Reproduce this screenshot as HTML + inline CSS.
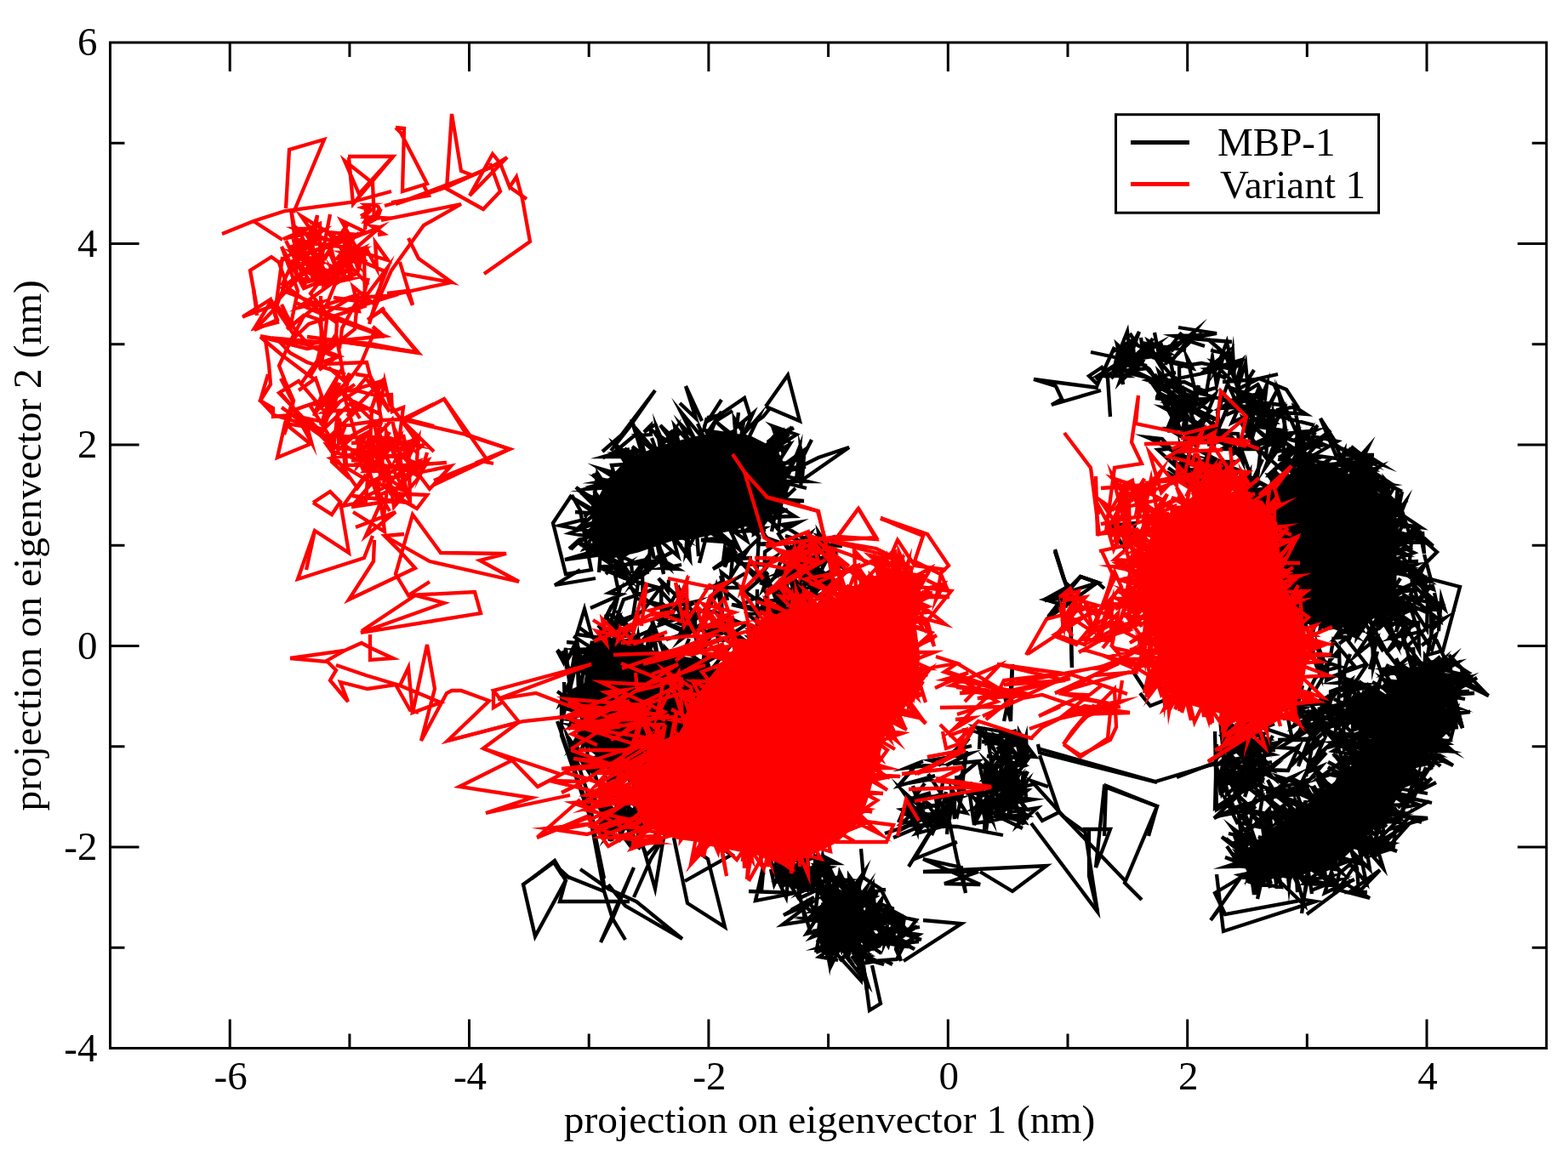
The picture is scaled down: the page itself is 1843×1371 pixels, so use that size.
<!DOCTYPE html>
<html lang="en"><head><meta charset="utf-8"><title>projection on eigenvectors</title>
<style>
html,body{margin:0;padding:0;background:#fff;}
body{width:1843px;height:1371px;overflow:hidden;}
svg{display:block;}
text{font-family:"Liberation Serif",serif;fill:#000;}
</style></head><body>
<svg width="1843" height="1371" viewBox="0 0 1843 1371">
<rect width="1843" height="1371" fill="#fff"/>
<g id="data" fill="none" stroke-linejoin="miter" stroke-miterlimit="4" stroke-linecap="butt">
<path d="M695 625L700 595L715 565L740 540L775 526L815 515L850 509L882 514L912 529L925 555L918 585L900 610L862 622L825 630L788 635L750 648L720 655L700 648Z" fill="#000" stroke="#000" stroke-width="3"/>
<path d="M695 755L745 752L770 768L832 778L845 815L820 845L802 880L770 898L720 902L695 882L682 840L690 790Z" fill="#000" stroke="#000" stroke-width="3"/>
<path d="M1502 575L1530 545L1570 550L1605 570L1640 595L1640 713L1518 713L1505 645Z" fill="#000" stroke="#000" stroke-width="3"/>
<path d="M1458 578L1500 572L1523 555L1558 560L1588 585L1608 602L1628 635L1623 680L1608 715L1588 735L1558 740L1538 725L1523 710L1483 690L1458 640Z" fill="#000" stroke="#000" stroke-width="3"/>
<path d="M1633 815L1658 790L1683 778L1698 802L1688 840L1678 883L1613 883L1618 840Z" fill="#000" stroke="#000" stroke-width="3"/>
<path d="M1466 1000L1496 975L1533 950L1570 920L1596 895L1620 862L1633 825L1658 800L1698 800L1698 838L1678 875L1658 912L1633 950L1608 980L1578 1008L1533 1025L1488 1030L1468 1020Z" fill="#000" stroke="#000" stroke-width="3"/>
<path d="M699 632L670 627L705 613L683 618L702 602L669 583L700 604L676 602M700 596L677 573L705 592L679 576L709 592L698 577L706 588L683 580M719 573L688 575L714 567L699 571L718 573L696 558L712 572L698 557M726 557L705 551L723 562L719 547L736 546L722 522L750 542L734 527M757 541L742 493L759 537L743 525L759 537L751 508L773 534L766 515M777 533L772 503L783 529L769 508L795 526L776 500L802 525L788 506M799 526L793 501L812 522L800 499L816 515L800 484L830 520L820 498M832 517L841 495L865 518L863 492L879 517L892 490L871 514L874 496M899 526L912 510L898 530L913 515L908 527L919 511L902 524L928 508M905 527L914 522L912 534L927 510L912 531L928 523L914 545L933 544M920 555L947 549L915 551L943 531L920 559L949 566L915 566L948 574M916 584L940 593L915 587L945 589L907 590L934 607L900 608L915 620M888 614L898 619L887 611L897 626L880 611L893 634L883 608L885 627M870 614L878 636L857 621L869 646L839 620L857 641L832 624L822 662M819 627L821 654L819 625L806 651L808 625L811 658L790 628L805 649M787 630L801 642L791 632L797 654L774 634L780 675L772 638L777 657M765 639L769 657L764 638L763 669L725 652L740 675L714 654L719 666M706 649L704 673L706 646L664 658L707 652L688 643L706 641L681 640M704 639L687 645L700 626L669 645L696 621L671 646" stroke="#000" stroke-width="4.3" stroke-miterlimit="10"/>
<path d="M814 597L833 620L824 615L851 637L824 635L854 632M699 644L721 658L699 652L719 640L751 635L723 646M874 600L875 613L884 594L863 608L874 588L856 601M711 577L706 562L712 571L702 558L697 597L687 608M735 613L772 615L762 630L759 613L788 613L764 621M860 517L834 521L858 538L822 528L841 559L836 534M742 528L763 550L729 537L757 530L724 533L744 539M935 574L911 597L917 586L896 618L913 595L907 625M795 535L815 559L810 547L798 577L805 557L791 576M777 519L796 512L788 519L794 504L770 533L781 523M916 521L931 502L908 529L936 511L908 501L930 522M772 567L765 587L771 574L756 584L741 574L758 561M772 498L757 508L765 500L765 511L747 512L774 535M872 554L855 540L877 564L865 563L876 559L863 560M940 563L940 547L936 564L940 525L926 560L930 550M885 628L899 611L886 622L900 623L867 625L859 615M730 576L706 563L727 568L703 567L719 564L713 584M775 597L753 594L780 606L772 595L809 609L796 591M747 511L718 535L740 528L709 537L741 537L723 559M933 503L902 520L918 508L914 519L908 501L921 534M941 573L945 536L943 562L941 527L944 537L954 517M827 579L855 558L829 559L850 562L818 550L857 558M904 613L909 588L891 563L911 568L904 556L917 562M732 628L767 623L751 621L767 629L767 597L750 604M855 541L842 542L865 543L848 523L850 560L869 567M866 606L878 617L840 609L830 588L793 603L808 569M866 564L869 580L866 568L829 565L855 581L873 555M871 584L856 587L874 572L854 582L846 564L860 585M738 653L716 623L732 648L726 634L726 649L716 641M875 578L889 576L904 596L888 587L923 579L910 571M926 599L912 605L926 572L899 598L903 584L916 565M831 491L827 506L860 511L872 528L872 515L886 527M865 506L832 520L869 535L898 558L894 540L876 543M791 604L781 576L788 587L784 564L801 594L805 562M770 548L766 529L778 537L776 524L780 533L763 523M800 524L808 533L846 529L851 563L845 551L843 583M831 491L847 488L830 511L848 484L840 496L861 483M896 605L876 617L888 620L869 585L881 583L847 582M816 633L790 625L810 634L781 622L804 633L793 624M730 579L697 595L711 585L741 582L750 588L748 627M881 579L865 562L875 584L874 574L875 610L883 598M700 642L690 651L709 630L718 637L690 629L716 623M750 646L734 647L749 629L727 653L734 643L713 643M868 485L866 502L885 486L877 504L897 490L905 480M825 595L837 610L845 604L827 619L857 610L841 612M918 589L924 575L907 587L936 561L921 573L888 591M894 601L890 614L879 622L898 621L886 628L890 594M844 498L872 520L868 548L877 525L860 535L891 528M919 586L915 623L905 611L877 610L906 609L875 597M849 624L863 593L843 605L866 589L851 577L874 594M731 595L718 614L737 597L728 629L726 590L733 602M759 550L761 563L737 575L754 539L752 575L742 553" stroke="#000" stroke-width="4.3" stroke-miterlimit="10"/>
<path d="M755 719L778 689L777 708L791 723L763 708L740 690M718 745L733 705L774 691L734 680L706 668L733 676M774 641L786 667L771 654L797 669L780 668L801 664M694 715L730 699L716 697L755 677L776 659L734 664M794 724L811 721L819 755L816 719L802 741L820 726M707 656L728 670L737 678L723 659L734 669L703 666M826 717L849 722L847 691L836 710L842 689L847 710M920 708L922 696L917 714L921 690L934 701L893 685M712 675L733 655L725 670L736 664L723 676L728 700M907 717L860 711L905 722L934 701L920 710L946 676M987 666L949 686L942 651L960 665L936 670L915 676M755 671L756 718L718 741L740 744L707 746L737 748M681 738L696 749L687 716L678 746L706 750L688 747M976 660L955 656L965 664L940 667L972 688L954 655M865 660L862 644L859 678L878 648L838 669L863 651M978 686L953 727L937 693L949 716L955 689L952 739M856 728L859 743L850 728L844 751L839 736L850 746M900 632L917 638L889 640L912 640L899 649L898 694M937 655L956 670L940 645L947 678L938 660L948 666M703 735L721 756L710 751L728 753L728 728L713 721M878 755L844 730L875 757L837 736L830 747L848 725M802 740L770 727L808 745L806 704L804 750L803 731M835 749L827 760L864 746L848 754L876 735L837 718M901 686L871 661L889 681L892 633L867 657L884 656M957 689L964 677L944 677L987 701L954 678L959 701M890 693L890 728L901 700L903 714L876 696L903 673M894 762L881 750L917 757L901 743L940 742L906 754M819 728L804 734L825 738L803 743L823 739L783 752M750 686L744 724L728 730L740 739L725 718L747 759M960 689L922 698L901 731L939 717L967 688L987 717M859 635L868 662L859 645L855 658L852 644L850 660M778 735L777 695L796 716L749 704L730 668L709 666M743 674L742 662L760 658L761 673L746 678L757 658M810 714L842 746L798 733L820 723L799 753L824 734M988 689L966 706L975 682L967 704L979 695L960 678M876 674L847 691L872 711L890 702L924 728L911 691M801 692L809 723L778 734L797 712L819 707L796 720M955 661L947 679L947 663L945 700L929 683L940 694M786 682L785 695L774 680L805 710L798 692L774 735M849 684L835 691L871 691L848 673L855 706L847 677M953 726L934 747L901 723L941 744L917 746L950 713M739 683L765 650L744 685L778 651L768 661L790 649M852 667L856 646L868 663L897 664L911 655L891 679M912 705L902 678L897 693L929 659L923 704L921 688M983 663L989 688L962 669L967 687L953 674L960 687M894 750L885 738L907 746L882 739L908 731L926 707M719 712L711 728L727 699L715 745L727 729L719 760M949 762L941 728L961 742L948 709L916 728L944 729M898 697L933 675L922 683L952 658L918 673L932 670M955 695L936 663L963 688L966 671L952 705L958 687M884 745L913 719L879 722L914 753L903 743L952 741M986 688L960 701L981 693L963 684L980 683L964 677" stroke="#000" stroke-width="4.3" stroke-miterlimit="10"/>
<path d="M963 670L927 703L944 680L936 634L923 630L956 641M929 645L952 628L939 650L958 643L931 672L933 706M955 639L935 655L916 676L928 670L914 709L923 679M956 653L952 677L963 636L960 684L955 656L928 642M911 677L920 654L933 695L933 678L949 707L916 685M990 642L975 641L957 644L970 642L952 647L937 654M985 638L963 631L981 648L943 651L958 635L928 644M942 715L909 706L937 702L913 715L937 716L911 721M936 647L976 633L956 659L980 651L965 645L995 671M962 630L967 643L950 636L919 617L939 614L915 627M965 646L962 626L986 664L951 638L957 686L972 658M918 653L926 668L940 640L937 663L914 626L930 649" stroke="#000" stroke-width="4.3" stroke-miterlimit="10"/>
<path d="M697 762L710 734L710 758L718 731L727 755L712 722L729 760L723 740M740 752L767 740L747 762L750 747L752 760L766 736L760 763L780 746M763 770L767 752L773 772L766 728L783 775L782 762L798 779L810 751M797 776L804 764L829 782L829 759L826 781L854 765L833 791L851 785M839 800L851 793L836 794L858 785L837 807L847 796L834 801L863 799M837 805L863 796L839 813L856 810L845 806L857 839L839 815L859 826M840 809L848 822L836 821L852 828L825 827L854 830L828 824L844 836M836 825L854 857L825 837L842 856L826 827L835 851L825 832L831 841M823 834L829 847L816 842L835 844L823 838L829 861L806 863L824 893M809 865L821 880L804 874L823 885L776 892L797 905L753 893L759 909M757 892L759 917L745 897L753 907L745 896L740 923L741 893L748 910M747 898L742 916L748 894L747 917L732 895L748 919L724 900L714 922M714 893L699 908L714 896L708 902L713 889L693 899L707 886L682 902M699 868L685 877L694 850L669 846L686 839L668 834L696 802L671 813M692 785L682 776L697 764L685 767L697 770L676 764L697 763L674 748" stroke="#000" stroke-width="4.3" stroke-miterlimit="10"/>
<path d="M720 976L738 972L708 965L732 957L713 962L742 977M720 989L709 963L709 985L705 964L731 926L706 933M712 915L734 914L693 890L701 916L677 876L688 894M711 947L731 970L718 968L741 964L738 951L745 986M753 998L731 984L733 946L714 982L724 971L716 989M721 925L703 937L724 924L725 955L709 942L733 942M766 988L777 972L760 944L750 980L749 946L744 965M682 854L686 873L691 831L668 831L681 823L668 858M692 772L678 792L689 767L688 788L678 756L666 755M747 967L734 939L759 955L745 974L743 957L734 969M678 905L667 866L676 882L668 867L691 904L689 889M689 765L683 808L674 761L667 776L678 757L685 779M687 820L688 805L671 828L683 825L669 817L690 809M746 932L724 940L736 942L754 947L746 930L753 976M688 850L672 878L691 860L690 875L691 906L677 885M733 944L739 931L739 968L726 922L723 972L715 955M663 802L664 834L676 786L659 827L668 819L687 836M744 999L716 961L721 973L698 938L710 959L706 942M664 784L685 790L677 775L672 801L668 822L655 813M683 808L688 846L673 851L691 855L672 853L685 858M747 932L757 946L738 941L717 932L750 959L731 942M727 990L732 977L745 952L740 974L757 949L740 965" stroke="#000" stroke-width="4.3" stroke-miterlimit="10"/>
<path d="M1027 1078L1016 1079L1020 1087L1008 1082L1021 1081L999 1076M1023 1114L1013 1117L1003 1115L1011 1122L1009 1099L1018 1097M1010 1070L988 1089L1013 1067L1004 1066L1013 1061L1003 1062M1000 1088L1021 1112L1022 1100L1024 1114L996 1094L1004 1113M982 1099L989 1117L992 1106L1024 1100L996 1104L1015 1114M1000 1107L993 1085L993 1101L999 1091L991 1086L1014 1081M976 1105L989 1103L979 1103L1011 1115L1002 1109L1004 1121M1026 1112L1015 1092L1012 1101L1020 1118L1020 1097L1028 1111M1013 1121L1003 1105L999 1118L999 1102L995 1116L1001 1086M995 1072L990 1098L988 1085L987 1105L996 1079L1012 1066M1000 1116L1000 1096L994 1102L986 1084L992 1091L1002 1108M1007 1076L1022 1085L1009 1088L1032 1080L1026 1092L1019 1074M1022 1089L1007 1085L1037 1094L1017 1078L1020 1066L1026 1088M1016 1104L995 1112L1012 1105L995 1112L1010 1107L983 1101" stroke="#000" stroke-width="4.3" stroke-miterlimit="10"/>
<path d="M983 1073L964 1054L983 1070L968 1050L976 1070L975 1055L988 1065L966 1047M999 1057L1007 1040L1011 1060L1019 1043L1003 1064L1018 1052L1012 1064L1028 1046M1011 1068L1026 1040L1028 1069L1036 1058L1031 1078L1046 1078L1033 1090L1049 1080M1032 1086L1052 1075L1034 1082L1055 1088L1033 1099L1051 1103L1011 1122L1009 1141M1008 1119L1020 1157L993 1123L1003 1135L988 1113L977 1135L978 1099L966 1120M978 1103L973 1115L976 1085L952 1081L977 1080L965 1079L981 1077L955 1067M983 1068L965 1063" stroke="#000" stroke-width="4.3" stroke-miterlimit="10"/>
<path d="M955 1095L983 1091L954 1102L973 1081L974 1093L967 1072M976 1124L1008 1102L981 1098L997 1098L1010 1115L999 1113M1038 1084L1042 1067L1064 1079L1045 1074L1072 1103L1055 1079M989 1099L989 1068L990 1082L994 1054L1005 1078L1006 1041M1080 1107L1061 1109L1075 1116L1049 1101L1060 1082L1060 1103M1024 1070L1024 1059L1045 1078L1024 1078L1033 1069L1015 1047M990 1069L993 1059L1001 1084L1002 1066L1003 1078L993 1066M1083 1105L1053 1095L1018 1084L1024 1097L1009 1089L1037 1108M1027 1088L1005 1068L1018 1081L986 1078L1002 1069L996 1041M1022 1095L1025 1071L1009 1098L1007 1068L1002 1089L1016 1070M1078 1089L1064 1099L1077 1082L1063 1079L1059 1103L1056 1091M970 1085L990 1076L994 1051L1006 1078L1010 1043L992 1071M1044 1101L1027 1084L1044 1112L1055 1076L1040 1109L1043 1087M1010 1060L1016 1088L990 1063L998 1100L1009 1135L1001 1124M987 1032L989 1043L980 1034L1012 1058L1006 1089L1032 1063M999 1103L1031 1090L1060 1112L1022 1106L1040 1106L1012 1099M1049 1134L1039 1129L1054 1128L1062 1112L1055 1103L1065 1108M1025 1083L999 1106L1022 1104L1011 1104L1036 1121L1009 1103M1050 1081L1028 1087L1042 1083L1011 1086L1035 1062L1030 1094M1011 1127L1022 1124L1005 1118L976 1116L990 1107L959 1120M1020 1081L1047 1073L1019 1060L1022 1089L1011 1072L1028 1100M1059 1110L1069 1109L1054 1115L1080 1099L1053 1095L1081 1090M1035 1063L1049 1068L1051 1105L1059 1130L1053 1116L1058 1093M1015 1054L1002 1067L1001 1037L999 1050L988 1032L1005 1060M959 1120L964 1097L967 1115L966 1101L980 1116L980 1084M1005 1062L1015 1073L999 1063L979 1081L977 1045L986 1075" stroke="#000" stroke-width="4.3" stroke-miterlimit="10"/>
<path d="M1184 931L1193 918L1179 931L1190 928L1190 907L1186 930M1191 870L1183 863L1201 879L1195 862L1203 866L1174 862M1198 867L1181 873L1196 869L1185 878L1198 875L1188 868M1201 893L1193 891L1204 899L1184 900L1178 879L1192 863M1196 906L1176 910L1185 917L1183 889L1190 917L1187 885M1177 870L1180 880L1174 875L1184 891L1172 878L1187 898M1189 878L1177 870L1191 885L1187 877L1194 886L1203 900M1185 933L1183 900L1182 918L1188 893L1178 898L1188 897" stroke="#000" stroke-width="4.3" stroke-miterlimit="10"/>
<path d="M1167 920L1175 945L1177 932L1176 942L1193 921L1187 959M1209 963L1197 953L1208 959L1184 961L1205 967L1192 946M1204 926L1190 938L1203 926L1171 926L1208 929L1198 937M1202 910L1176 893L1196 914L1200 928L1204 915L1206 937M1168 917L1179 908L1161 923L1164 903L1157 923L1158 897M1184 906L1164 919L1173 915L1160 913L1168 918L1158 896M1198 883L1198 861L1211 885L1205 874L1203 895L1210 881M1192 908L1199 942L1191 930L1189 945L1185 928L1182 951M1183 901L1169 929L1180 948L1163 935L1181 950L1203 917M1151 881L1152 861L1169 882L1161 866L1166 903L1159 896M1185 949L1207 952L1191 930L1187 949L1192 939L1203 970M1200 933L1185 940L1197 938L1214 940L1198 943L1164 940M1198 931L1186 947L1198 937L1183 939L1198 920L1185 926M1203 907L1200 933L1207 919L1197 929L1208 907L1197 925M1171 949L1165 936L1179 958L1182 929L1196 937L1176 920M1194 898L1200 876L1206 888L1193 888L1217 890L1199 866M1198 886L1171 903L1167 941L1162 921L1181 931L1215 922M1188 863L1203 873L1194 867L1199 890L1206 866L1207 890" stroke="#000" stroke-width="4.3" stroke-miterlimit="10"/>
<path d="M986 1031L960 1038L988 1031L973 1037L967 1007L964 1030M969 1030L961 1006L932 1019L974 1025L965 1012L956 1032M937 1007L952 1034L948 1004L965 1015L961 1031L973 1019M962 1038L952 1022L951 1051L956 1021L968 1043L953 1034M910 1015L948 1010L934 1020L975 1024L936 1028L967 1016M928 1020L924 1055L914 1034L904 1009L921 1042L914 1030M940 1056L957 1048L923 1039L965 1040L932 1043L907 1023M906 1022L910 1040L929 1001L929 1035L939 1026L920 1042M958 1021L958 1009L971 1036L972 1014L981 1033L971 1012M918 1028L920 1004L916 1034L947 1019L940 1031L943 1009M968 1015L984 1015L968 1007L953 1027L920 1032L911 1003M955 1017L979 1032L960 1018L976 1020L940 1035L959 1035" stroke="#000" stroke-width="4.3" stroke-miterlimit="10"/>
<path d="M1078 957L1080 944L1078 978L1065 946L1056 967L1062 954M1113 952L1083 960L1115 973L1092 958L1106 962L1116 971M1066 961L1081 956L1066 972L1084 963L1119 948L1105 970" stroke="#000" stroke-width="4.3" stroke-miterlimit="10"/>
<path d="M956 1078L985 1088L977 1078L977 1099L969 1087L985 1095M1015 1072L1005 1094L1002 1080L989 1101L999 1096L974 1102M983 1094L1002 1088L989 1097L1000 1091L990 1090L1005 1090M994 1066L987 1088L993 1059L1013 1074L1006 1068L1006 1095M991 1084L984 1090L1000 1087L991 1082L1018 1084L1002 1070M991 1064L1004 1044L1004 1059L978 1053L1012 1045L995 1051M1014 1076L1007 1046L998 1063L993 1080L986 1068L996 1074M980 1103L1001 1087L967 1096L977 1089L971 1104L990 1080M1010 1078L979 1072L1004 1064L977 1060L958 1070L986 1064M974 1047L971 1061L995 1062L999 1080L989 1084L1018 1073M996 1052L967 1049L993 1063L985 1057L996 1064L980 1070M991 1068L970 1080L994 1071L963 1072L983 1077L975 1071M981 1090L970 1066L974 1085L954 1065L963 1085L965 1077M1006 1112L1014 1099L1000 1114L1008 1101L1003 1119L1001 1111" stroke="#000" stroke-width="4.3" stroke-miterlimit="10"/>
<path d="M969 1055L961 1037L983 1050L987 1026L998 1048L998 1030L1015 1054L1032 1050M1017 1050L1041 1046L1019 1050L1029 1054L1012 1062L1046 1081L1017 1073L1037 1068M1018 1102L1042 1107L1012 1096L1035 1101L1014 1115L1039 1106L1015 1118L1035 1112M1013 1133L1031 1130L1017 1128L1039 1134L1014 1122L1012 1153L973 1110L975 1123M965 1094L948 1098L959 1081L920 1087L953 1062L921 1076L957 1055L930 1070" stroke="#000" stroke-width="4.3" stroke-miterlimit="10"/>
<path d="M980 1032L941 1049L964 1029L959 1068L961 1047L980 1067M940 1058L918 1023L955 1045L945 1047L937 1039L946 1080M995 1123L985 1091L1007 1106L986 1092L1005 1110L980 1086M997 1121L987 1130L1010 1105L986 1110L1014 1081L1018 1099M982 1114L995 1106L1000 1090L1001 1114L1017 1122L996 1100M1019 1164L1017 1149L1010 1113L971 1114L982 1115L967 1116M964 1016L958 1032L946 1032L951 1022L932 1032L972 1024M983 1041L986 1061L992 1047L979 1061L1011 1060L984 1084M960 1037L975 1050L1004 1057L989 1049L1000 1071L969 1053M967 1045L998 1035L974 1033L978 1065L968 1022L939 1049M910 1020L924 1033L913 1020L924 1025L940 1032L933 1015M964 1096L992 1109L974 1093L975 1112L975 1085L969 1107M975 1095L974 1128L966 1086L980 1105L983 1070L1001 1097M975 1062L961 1069L997 1074L970 1065L982 1060L970 1071M995 1111L963 1114L993 1103L963 1125L985 1129L962 1125M953 1034L961 1024L943 1037L954 1028L940 1033L950 1013M955 1069L984 1103L954 1072L975 1082L965 1072L966 1088M951 1048L924 1030L958 1046L927 1023L965 1026L952 1035M979 1088L994 1081L977 1099L988 1097L1017 1122L989 1106M999 1047L1003 1061L1009 1040L991 1060L1016 1025L1003 1060M960 1108L990 1084L962 1094L966 1066L950 1080L983 1083M953 1097L942 1062L969 1085L949 1080L969 1080L948 1080M981 1068L980 1038L995 1067L979 1050L975 1061L983 1051M918 1010L932 1031L929 1012L932 1027L938 1016L938 1033" stroke="#000" stroke-width="4.3" stroke-miterlimit="10"/>
<path d="M1522 558L1513 549L1526 559L1513 538L1526 548L1528 521L1537 553L1536 540M1569 553L1580 531L1578 560L1608 526L1588 568L1588 548L1594 565L1596 538M1599 568L1612 548L1596 570L1610 561L1605 576L1617 558L1629 589L1638 574M1644 603L1643 584L1634 609L1654 619L1637 611L1661 620L1635 614L1652 620M1638 634L1655 628L1639 628L1649 634L1635 643L1671 628L1633 647L1653 646M1639 665L1660 670L1637 673L1656 677L1633 667L1664 664L1636 677L1651 669M1633 687L1661 694L1637 697L1661 686L1631 708L1635 732L1631 706L1607 746M1625 712L1630 735L1610 711L1628 735L1600 707L1585 732L1587 712L1594 720M1582 708L1573 737L1555 709L1540 749L1553 711L1550 722L1544 706L1551 731M1544 710L1542 735L1522 710L1533 732L1512 708L1520 719L1520 702L1500 712M1516 695L1492 694L1519 697L1489 694L1516 691L1503 697L1513 677L1485 667M1515 676L1491 676L1516 664L1494 668L1517 671L1486 675L1512 666L1500 664M1513 656L1499 664L1513 646L1497 653L1511 634L1488 632L1505 636L1483 636M1512 631L1485 633L1511 607L1481 625L1511 602L1484 618L1510 595L1489 602M1505 608L1484 613L1509 602L1480 608L1508 590L1480 592L1508 586L1481 568" stroke="#000" stroke-width="4.3" stroke-miterlimit="10"/>
<path d="M1434 504L1403 484L1381 443L1405 483L1362 462L1381 497M1513 518L1495 508L1531 522L1521 478L1535 487L1484 483M1349 433L1310 437L1323 431L1344 416L1329 423L1354 400M1525 511L1503 462L1512 511L1505 466L1516 495L1497 451M1480 451L1434 480L1486 477L1466 469L1501 489L1545 500M1317 449L1327 439L1353 445L1326 438L1316 449L1329 411M1386 452L1405 499L1408 513L1428 464L1403 485L1409 453M1588 525L1612 544L1568 524L1603 537L1584 540L1622 562M1478 562L1481 534L1460 499L1508 506L1471 523L1513 518M1348 430L1322 424L1375 416L1350 401L1358 419L1383 449M1375 497L1417 469L1380 471L1429 456L1408 462L1459 475M1332 441L1355 398L1337 425L1360 405L1341 415L1365 417M1387 482L1386 431L1412 427L1453 435L1426 426L1449 449M1424 500L1440 523L1414 508L1455 510L1460 542L1450 522M1463 422L1416 436L1442 415L1430 433L1442 402L1451 443M1475 486L1442 472L1487 461L1454 475L1478 496L1465 487M1369 452L1392 449L1418 461L1425 420L1430 453L1438 417M1372 507L1409 499L1398 508L1423 483L1379 458L1407 468M1440 416L1451 446L1449 414L1445 439L1460 424L1453 450M1370 429L1374 415L1380 446L1376 426L1405 389L1376 413M1605 543L1619 575L1595 560L1618 561L1595 544L1621 563M1524 525L1525 500L1533 535L1548 539L1532 545L1502 540M1364 469L1403 468L1358 468L1394 473L1372 473L1408 474M1493 507L1496 487L1500 522L1474 478L1470 521L1481 484M1371 454L1386 502L1373 478L1355 452L1400 475L1372 475M1332 409L1334 426L1321 404L1318 426L1313 405L1341 430M1462 502L1480 455L1487 468L1489 452L1480 473L1513 477M1536 521L1503 538L1521 527L1496 532L1519 510L1482 528M1341 397L1344 419L1352 407L1342 427L1376 464L1357 440M1501 493L1511 481L1471 494L1498 496L1458 466L1457 482M1422 491L1389 510L1393 491L1373 502L1390 461L1392 483M1398 429L1354 420L1402 433L1395 420L1406 464L1367 444M1428 520L1451 515L1419 523L1449 513L1414 518L1435 516M1501 527L1467 496L1470 519L1461 492L1502 524L1475 520M1307 414L1331 400L1316 434L1339 390L1326 426L1333 407M1416 407L1379 395L1411 394L1362 412L1406 395L1375 425M1288 446L1314 427L1290 442L1325 442L1308 434L1325 427M1543 513L1572 519L1527 545L1564 506L1531 531L1546 508M1446 507L1417 504L1427 519L1427 499L1451 535L1440 513M1635 572L1620 572L1635 570L1597 563L1598 536L1594 557M1496 517L1464 527L1502 511L1487 550L1509 519L1536 538M1545 526L1533 513L1557 523L1520 530L1541 542L1524 519M1316 416L1320 452L1313 418L1309 436L1325 425L1306 445M1423 412L1438 415L1420 399L1456 430L1418 434L1441 445M1549 500L1537 512L1548 525L1520 518L1546 506L1501 511M1610 537L1624 546L1595 535L1606 568L1574 536L1593 549M1495 509L1507 479L1477 504L1502 457L1480 502L1501 493M1590 545L1613 556L1599 539L1605 565L1571 539L1533 534M1430 510L1444 475L1496 483L1469 487L1448 497L1469 450M1328 432L1364 454L1351 434L1322 414L1334 431L1323 443M1481 528L1436 528L1468 511L1488 538L1490 508L1504 523M1372 504L1391 476L1395 521L1394 473L1388 489L1398 476M1360 467L1366 451L1362 437L1383 457L1349 447L1382 438M1474 435L1466 448L1464 427L1454 458L1478 446L1437 449M1618 541L1601 557L1621 549L1607 561L1608 541L1595 557M1508 565L1510 541L1492 559L1514 559L1476 525L1502 512M1432 508L1411 484L1434 495L1402 484L1367 479L1389 491M1386 473L1397 491L1378 477L1412 505L1373 504L1409 526M1455 448L1455 477L1443 451L1431 485L1433 502L1446 473M1469 556L1456 520L1461 540L1429 509L1407 497L1426 527M1528 534L1503 514L1515 524L1510 537L1526 527L1490 559M1435 516L1408 520L1422 516L1389 505L1414 519L1373 497M1389 391L1368 417L1364 403L1372 423L1337 406L1328 392M1337 438L1363 450L1378 462L1356 451L1409 440L1427 436M1357 391L1365 432L1357 419L1372 409L1342 403L1394 412M1500 510L1474 483L1487 494L1449 457L1484 469L1441 488M1582 553L1570 523L1614 552L1578 549L1618 560L1585 527M1497 552L1530 537L1514 552L1535 513L1508 545L1510 495" stroke="#000" stroke-width="4.3" stroke-miterlimit="10"/>
<path d="M1434 549L1425 561L1426 544L1433 555L1420 544L1422 558M1360 519L1348 514L1366 516L1395 549L1388 528L1391 558M1349 514L1380 531L1358 518L1397 539L1383 557L1373 550M1389 526L1361 529L1385 551L1378 536L1395 569L1371 555M1453 562L1427 566L1429 591L1425 580L1429 592L1415 580M1482 609L1496 604L1469 602L1492 609L1474 586L1474 570M1477 596L1486 585L1452 596L1482 587L1451 591L1483 611M1417 535L1441 548L1408 548L1417 558L1399 552L1440 556M1386 559L1392 523L1402 542L1444 551L1423 541L1436 544M1444 560L1459 554L1425 541L1444 548L1412 531L1424 533M1402 561L1433 543L1414 542L1425 548L1381 545L1413 573M1430 574L1420 544L1410 562L1422 567L1413 558L1417 574M1503 617L1497 589L1494 601L1500 579L1482 602L1497 587M1401 569L1430 555L1447 543L1424 543L1435 553L1395 535M1466 595L1490 607L1464 601L1480 609L1472 592L1503 604M1403 558L1391 544L1403 564L1407 546L1402 562L1439 540M1464 578L1482 567L1451 594L1454 561L1470 589L1447 573M1464 567L1434 570L1474 574L1496 595L1458 575L1442 574" stroke="#000" stroke-width="4.3" stroke-miterlimit="10"/>
<path d="M1456 579L1469 555L1468 580L1465 568L1457 580L1458 561L1467 577L1484 540M1471 578L1479 567L1471 579L1464 558L1501 578L1498 558L1494 575L1496 554M1511 568L1501 557L1502 575L1491 559L1514 563L1510 549L1525 560L1512 547M1537 558L1541 545L1536 559L1532 541L1561 561L1560 540L1561 565L1574 542M1560 572L1564 556L1566 570L1574 562L1570 570L1577 561L1567 578L1573 556M1567 575L1578 554L1591 596L1606 579L1604 607L1618 587L1607 601L1627 603M1608 610L1627 600L1616 631L1630 606L1615 615L1640 621L1625 639L1637 608M1624 633L1643 611L1622 635L1653 652L1619 649L1652 636L1623 657L1651 644M1625 651L1649 662L1620 656L1658 667L1624 672L1633 669L1615 685L1630 696M1613 691L1650 707L1618 691L1634 687L1614 681L1631 690L1604 704L1645 725M1596 718L1609 730L1590 725L1601 741L1576 733L1593 748L1553 731L1551 743M1548 726L1544 740L1543 728L1532 735L1541 726L1521 740L1548 724L1532 730M1537 714L1520 730L1533 711L1528 725L1536 723L1518 733L1531 715L1513 732M1539 717L1521 721L1530 715L1519 728L1526 712L1492 727L1517 707L1506 735M1497 696L1468 723L1497 689L1474 710L1487 689L1464 703L1484 681L1465 679M1473 666L1453 700L1471 658L1451 677L1471 650L1455 651L1465 638L1454 655M1466 646L1439 654L1467 645L1435 645L1464 625L1451 618L1460 602L1436 608M1459 592L1449 594L1463 598L1435 596" stroke="#000" stroke-width="4.3" stroke-miterlimit="10"/>
<path d="M1541 751L1545 777L1539 762L1552 794L1549 759L1557 779M1663 715L1626 732L1640 755L1634 736L1645 762L1662 729M1652 701L1606 717L1651 704L1607 725L1630 767L1641 757M1662 862L1643 869L1676 852L1666 866L1666 851L1668 867M1580 790L1581 817L1588 800L1572 812L1616 808L1590 833M1546 811L1560 788L1559 800L1592 783L1567 753L1562 783M1683 789L1725 806L1698 796L1673 834L1656 839L1666 820M1639 636L1669 621L1656 626L1642 582L1638 620L1621 587M1589 871L1568 873L1587 877L1566 864L1576 876L1540 841M1614 831L1589 840L1618 845L1569 852L1586 813L1607 781M1651 637L1660 625L1656 670L1667 708L1658 699L1674 665M1663 875L1654 829L1669 845L1696 846L1665 856L1677 848M1701 846L1680 822L1712 846L1696 801L1702 818L1705 795M1592 851L1625 821L1590 841L1611 816L1613 853L1606 828M1595 572L1609 592L1617 560L1630 598L1612 609L1629 603M1639 807L1662 788L1628 793L1644 784L1625 787L1653 796M1632 841L1670 871L1666 831L1676 855L1678 824L1681 848M1619 766L1614 785L1613 741L1593 771L1619 750L1610 787M1678 824L1682 808L1726 791L1698 773L1666 805L1682 798M1609 583L1622 593L1602 550L1603 564L1638 588L1613 565M1685 642L1646 626L1650 644L1662 650L1627 662L1667 660M1667 786L1651 794L1630 767L1647 742L1652 763L1647 718M1626 766L1600 726L1617 734L1653 733L1639 716L1629 724M1659 619L1680 638L1631 637L1669 626L1674 651L1672 625M1598 726L1619 707L1593 741L1618 715L1595 749L1598 720M1682 720L1682 741L1698 727L1678 737L1654 760L1631 749M1651 715L1616 717L1634 713L1616 736L1635 717L1605 718M1585 754L1602 713L1599 733L1614 712L1656 715L1621 721M1690 793L1678 803L1681 791L1674 801L1681 818L1692 776M1622 828L1617 857L1597 815L1597 833L1609 815L1617 824M1644 590L1624 587L1647 603L1635 644L1650 615L1627 582M1644 726L1641 743L1647 727L1630 740L1645 729L1615 725M1634 712L1649 716L1623 700L1660 713L1639 703L1679 721M1561 555L1602 547L1634 568L1605 571L1618 571L1604 575M1721 802L1718 787L1724 804L1706 790L1658 776L1673 800M1660 647L1628 626L1654 662L1681 684L1659 680L1679 696M1679 691L1659 673L1676 682L1664 685L1685 693L1674 652M1612 840L1646 846L1657 863L1626 849L1601 870L1597 849M1626 878L1599 855L1614 854L1599 845L1550 845L1578 838M1652 814L1654 834L1630 795L1658 771L1645 782L1680 808M1577 738L1569 750L1581 749L1606 781L1570 794L1611 808M1524 838L1558 835L1529 850L1564 862L1541 828L1558 867M1604 555L1603 571L1590 571L1610 578L1590 558L1602 548M1589 813L1618 834L1603 820L1634 819L1609 825L1632 781M1527 835L1546 797L1560 788L1575 784L1557 778L1537 742M1622 724L1622 683L1617 720L1647 696L1630 701L1649 713M1646 582L1634 598L1650 593L1628 623L1652 590L1638 626M1705 870L1712 841L1699 850L1696 832L1683 826L1657 844M1682 687L1667 710L1651 700L1677 740L1678 706L1690 718M1537 876L1541 864L1528 852L1559 851L1547 863L1562 817M1616 741L1609 725L1631 721L1610 753L1624 792L1615 831M1632 802L1629 788L1678 786L1646 814L1648 837L1642 816M1587 844L1583 821L1602 846L1593 816L1570 858L1574 814M1584 746L1594 729L1575 746L1610 728L1574 757L1606 733M1616 807L1585 826L1588 810L1574 837L1617 824L1583 831M1688 795L1704 783L1660 800L1686 787L1670 833L1650 795M1637 574L1628 564L1635 594L1590 573L1606 578L1587 579M1688 752L1703 785L1691 779L1670 810L1691 807L1663 807M1661 687L1685 712L1675 696L1698 716L1694 703L1691 742M1692 717L1670 716L1691 711L1661 704L1693 730L1686 697M1588 804L1564 813L1563 840L1553 833L1599 823L1586 830M1543 860L1585 849L1564 878L1588 872L1555 856L1572 875M1542 548L1574 545L1548 554L1561 542L1537 552L1547 558M1669 832L1639 857L1642 827L1632 835L1629 851L1618 815M1675 696L1662 711L1632 713L1665 736L1655 706L1649 723M1576 772L1553 770L1554 788L1574 764L1575 801L1587 769M1620 740L1645 716L1600 720L1618 701L1606 719L1629 693M1667 787L1658 826L1633 836L1659 839L1641 825L1665 853M1634 576L1613 576L1625 564L1612 574L1623 568L1578 573M1669 743L1636 750L1664 734L1683 764L1688 746L1671 759M1556 554L1531 540L1579 548L1620 567L1594 578L1624 568M1623 847L1649 851L1632 826L1663 850L1644 830L1621 833M1703 841L1691 869L1709 841L1703 859L1693 818L1689 849M1607 857L1590 844L1628 875L1669 854L1637 866L1650 845M1683 796L1706 798L1675 816L1680 802L1688 778L1647 794M1598 854L1575 837L1589 836L1550 838L1583 829L1568 822" stroke="#000" stroke-width="4.3" stroke-miterlimit="10"/>
<path d="M1645 812L1636 801L1657 803L1632 787L1655 799L1641 788L1654 803L1641 774M1661 797L1639 785L1660 793L1643 779L1661 791L1655 771L1664 795L1661 761M1661 790L1651 755L1677 789L1655 770L1674 788L1676 774L1683 780L1693 772M1682 787L1696 775L1684 786L1696 776L1688 788L1707 773L1688 799L1694 784M1686 788L1707 788L1685 785L1713 779L1691 793L1721 795L1691 805L1720 802M1688 828L1712 832L1689 823L1709 834L1681 843L1728 837L1683 840L1700 841M1684 831L1704 851L1680 857L1703 852L1682 851L1692 857L1679 861L1695 859M1678 873L1689 870L1676 869L1703 883L1669 879L1685 902L1668 882L1670 897M1661 876L1652 907L1664 879L1656 891L1639 877L1632 889L1636 880L1626 894M1631 876L1634 913L1629 875L1616 901L1622 877L1613 905L1619 881L1603 877M1622 863L1594 868L1622 857L1596 868L1618 852L1600 849L1621 853L1606 847M1619 851L1606 839L1626 837L1585 850L1629 838L1584 828L1625 830L1610 828M1629 822L1610 807L1631 820L1619 813" stroke="#000" stroke-width="4.3" stroke-miterlimit="10"/>
<path d="M1467 999L1448 973L1476 994L1467 984L1484 992L1469 989L1479 998L1468 967M1500 980L1479 956L1500 981L1485 963L1495 980L1479 968L1496 984L1493 963M1504 972L1493 954L1508 971L1496 945L1514 965L1503 952L1521 964L1507 946M1514 965L1518 952L1520 965L1515 954L1528 954L1524 945L1527 959L1511 944M1530 959L1499 935L1536 950L1524 943L1544 950L1497 933L1536 953L1534 941M1548 947L1535 924L1546 944L1534 933L1556 942L1528 929L1549 939L1520 921M1558 936L1550 920L1567 930L1552 911L1565 930L1559 920L1568 927L1557 919M1579 912L1561 902L1578 914L1564 911L1582 909L1572 891L1583 909L1575 897M1586 909L1561 896L1587 911L1567 886L1589 910L1578 897L1584 910L1580 889M1586 913L1583 890L1599 898L1583 893L1597 894L1583 879L1596 904L1579 888M1601 891L1590 882L1609 889L1594 873L1607 885L1587 874L1616 882L1595 873M1612 877L1603 874L1619 875L1571 862L1623 867L1602 853L1633 849L1618 845M1625 856L1591 835L1629 838L1616 837L1636 831L1618 824L1629 838L1611 835M1631 838L1595 820L1633 833L1585 835L1635 834L1620 823L1647 821L1626 804M1643 826L1627 810L1643 819L1613 802L1642 818L1625 798L1648 811L1639 783M1648 812L1646 802L1652 811L1638 786L1662 796L1647 786L1660 809L1641 791M1657 801L1665 789L1673 803L1666 787L1674 801L1666 794L1661 805L1675 787M1674 806L1675 771L1703 806L1693 792L1697 805L1711 809L1692 814L1721 805M1694 810L1725 798L1696 820L1705 813L1692 814L1727 813L1694 817L1722 822M1692 820L1736 797L1692 824L1715 830L1696 826L1712 821L1688 849L1705 865M1687 857L1692 870L1677 865L1691 870L1684 863L1705 881L1679 867L1699 876M1670 874L1684 877L1676 871L1687 878L1670 883L1708 900L1675 879L1692 879M1671 874L1704 883L1668 884L1690 887L1669 876L1693 901L1669 879L1696 893M1672 881L1685 891L1668 892L1679 897L1663 896L1683 897L1659 902L1680 921M1657 909L1677 924L1651 911L1675 909L1650 912L1663 919L1643 927L1678 933M1643 935L1683 944L1635 934L1653 946L1632 947L1641 953L1635 943L1648 972M1635 943L1646 962L1625 951L1646 955L1617 965L1645 967L1619 962L1630 972M1616 968L1630 966L1603 974L1619 983L1606 973L1613 987L1598 988L1618 1008M1595 985L1619 998L1597 980L1642 1001L1594 984L1626 999L1598 980L1606 1009M1601 980L1609 998L1591 985L1608 1004L1590 990L1616 1004L1592 991L1602 1005M1576 1008L1605 1017L1560 1006L1577 1026L1555 1011L1564 1020L1555 1009L1559 1038M1552 1017L1554 1030L1542 1017L1558 1033L1539 1021L1534 1049L1537 1020L1542 1051M1538 1021L1530 1074L1538 1019L1538 1034L1523 1026L1529 1033L1523 1018L1525 1049M1513 1021L1515 1041L1517 1022L1528 1046L1520 1019L1533 1064L1491 1024L1504 1038M1488 1022L1493 1044L1485 1023L1494 1039L1489 1026L1476 1052L1486 1023L1475 1038M1485 1024L1485 1043L1485 1026L1478 1057L1486 1021L1471 1034L1486 1029L1473 1048M1475 1021L1474 1052L1469 1017L1467 1030L1472 1021L1467 1026L1474 1022L1468 1039M1470 1018L1441 1019L1472 1009L1450 1014" stroke="#000" stroke-width="4.3" stroke-miterlimit="10"/>
<path d="M1575 970L1564 936L1588 976L1574 960L1527 970L1552 969M1710 843L1693 867L1688 832L1684 870L1671 829L1705 844M1561 933L1543 927L1551 942L1544 924L1568 962L1534 952M1656 959L1623 949L1639 953L1611 967L1642 962L1597 979M1529 929L1553 901L1539 907L1556 870L1537 885L1550 869M1535 913L1545 865L1555 845L1526 861L1558 827L1513 830M1613 991L1571 981L1600 977L1562 1000L1585 973L1577 986M1595 965L1616 974L1610 961L1633 993L1617 1004L1639 997M1717 816L1733 815L1719 816L1695 821L1713 815L1689 856M1694 803L1710 850L1678 838L1691 831L1668 866L1667 841M1556 946L1524 932L1536 965L1517 952L1525 986L1542 958M1536 860L1504 879L1522 880L1557 915L1546 907L1574 946M1658 959L1627 992L1625 964L1614 993L1646 962L1660 923M1630 884L1582 892L1550 915L1597 900L1578 907L1590 893M1524 1029L1566 1013L1533 1039L1575 1041L1530 1034L1565 1040M1517 901L1549 868L1502 870L1527 870L1485 856L1498 851M1582 914L1544 939L1584 925L1588 950L1562 938L1582 940M1560 843L1530 842L1574 854L1594 827L1585 849L1585 836M1466 888L1494 912L1478 888L1484 937L1481 918L1488 880M1499 882L1459 880L1504 873L1465 903L1470 924L1478 903M1643 950L1670 923L1651 949L1667 946L1621 929L1654 935M1435 935L1430 902L1434 914L1438 895L1452 921L1444 885M1610 890L1616 866L1644 851L1622 823L1635 853L1636 813M1596 806L1575 819L1607 805L1571 803L1590 800L1578 803M1533 991L1528 980L1517 1027L1525 999L1500 1039L1496 1005M1508 845L1546 841L1526 835L1570 815L1545 852L1547 836M1588 954L1604 936L1569 960L1581 949L1565 968L1572 957M1561 845L1576 859L1557 834L1602 853L1589 859L1626 846M1556 960L1525 988L1561 990L1524 987L1516 942L1476 970M1515 840L1530 834L1562 819L1550 837L1520 854L1532 837M1671 967L1647 958L1603 944L1607 932L1611 954L1629 907M1663 843L1638 850L1662 846L1627 846L1646 839L1635 867M1707 858L1697 843L1690 870L1708 852L1691 857L1714 855M1457 904L1469 895L1437 898L1460 891L1444 894L1486 917M1633 925L1618 893L1646 917L1609 907L1655 913L1619 897M1557 1002L1574 997L1558 1007L1573 991L1568 1024L1571 1009M1597 995L1606 1038L1587 1016L1574 1027L1569 1048L1587 1037M1487 905L1514 906L1527 877L1487 906L1462 917L1488 909M1564 967L1559 941L1518 929L1538 917L1498 928L1537 930M1614 1001L1637 992L1621 990L1656 969L1631 997L1640 989M1642 908L1650 919L1666 913L1651 918L1670 923L1652 899M1607 1049L1586 1049L1622 1023L1597 1049L1595 1021L1580 975M1484 982L1527 974L1559 958L1582 985L1567 954L1581 989M1601 987L1619 990L1615 955L1602 989L1615 996L1596 985M1665 814L1646 802L1679 817L1679 804L1682 820L1689 805M1611 992L1597 981L1614 999L1592 967L1605 926L1594 954M1448 907L1461 918L1439 915L1474 925L1453 934L1463 905M1472 981L1455 991L1457 978L1501 959L1455 950L1476 942M1559 885L1541 905L1558 880L1542 894L1528 924L1514 929M1517 950L1501 967L1515 958L1488 937L1522 912L1506 919M1444 868L1485 864L1477 874L1469 913L1461 922L1476 903M1444 888L1470 875L1445 873L1460 890L1455 859L1474 891M1597 987L1570 954L1593 972L1589 929L1562 961L1594 938M1435 875L1456 874L1430 891L1445 877L1437 867L1463 872M1590 943L1585 912L1563 938L1577 906L1603 938L1607 917M1526 901L1541 863L1559 852L1526 862L1537 839L1540 864M1450 980L1456 996L1436 984L1470 1011L1454 1003L1480 1042M1497 941L1483 939L1510 928L1487 938L1533 933L1488 931M1519 1032L1503 1029L1515 1029L1504 1009L1505 1022L1517 985M1470 1003L1455 1014L1472 1016L1441 986L1461 1002L1456 958M1589 1001L1587 975L1574 1016L1580 1004L1575 984L1551 1026M1646 812L1635 818L1653 815L1640 848L1631 826L1659 845M1462 987L1474 996L1466 974L1454 1011L1457 990L1459 1009M1679 816L1717 817L1696 817L1712 819L1684 838L1700 826M1453 1017L1490 1025L1453 1004L1499 993L1479 984L1512 992M1483 964L1486 988L1492 951L1471 974L1440 939L1455 969M1430 960L1466 953L1475 940L1469 970L1451 929L1440 910M1597 888L1567 883L1607 858L1586 866L1630 874L1590 878M1579 815L1590 835L1590 857L1601 840L1583 837L1547 869M1548 906L1563 952L1544 928L1566 930L1555 935L1597 930M1502 1023L1506 1043L1480 1039L1501 1028L1468 1031L1493 1016M1597 801L1634 826L1601 813L1614 817L1608 807L1598 835M1688 886L1682 863L1702 874L1685 875L1707 870L1694 872M1592 1034L1557 1050L1565 1025L1572 1047L1600 1007L1557 1023M1653 900L1643 865L1634 901L1670 891L1639 874L1680 862M1481 937L1449 912L1471 922L1504 956L1492 943L1505 955M1683 876L1655 838L1633 831L1664 843L1640 846L1675 856M1602 865L1608 851L1593 881L1591 864L1579 851L1580 883M1606 998L1619 1003L1582 994L1610 1022L1606 998L1574 994M1531 806L1523 839L1518 821L1530 841L1510 825L1519 870M1442 995L1455 1014L1440 1008L1486 1023L1457 1029L1487 1041M1450 866L1476 847L1443 869L1478 882L1454 882L1476 900M1541 1047L1572 1035L1558 1037L1567 1030L1542 1034L1568 998M1614 933L1592 904L1587 919L1571 874L1594 887L1578 878M1469 845L1451 877L1466 866L1431 886L1457 877L1428 902M1484 908L1512 923L1502 913L1539 925L1524 918L1545 947M1482 973L1456 967L1486 1005L1456 981L1469 989L1448 1020M1487 1026L1470 1028L1456 998L1480 1016L1468 986L1462 1000M1644 853L1673 869L1693 860L1658 845L1676 850L1654 812M1578 952L1551 958L1575 955L1593 963L1554 954L1541 975M1439 920L1445 936L1433 917L1436 933L1453 901L1429 920M1684 897L1671 917L1676 902L1663 935L1667 910L1647 955M1668 868L1692 877L1679 847L1683 893L1682 858L1693 822M1495 983L1490 995L1493 964L1494 980L1463 948L1491 981M1588 979L1587 995L1572 967L1601 979L1575 990L1572 1005M1543 983L1536 972L1545 986L1547 952L1547 998L1536 972" stroke="#000" stroke-width="4.3" stroke-miterlimit="10"/>
<path d="M1458 881L1480 915L1460 902L1472 901L1444 914L1466 929M1461 871L1447 859L1435 886L1457 859L1435 869L1451 860M1440 890L1456 899L1444 884L1436 925L1460 911L1486 918M1433 884L1453 900L1439 900L1465 901L1451 903L1495 896M1477 881L1462 863L1491 885L1485 866L1488 879L1496 865M1480 889L1496 887L1468 877L1492 870L1461 858L1482 862M1457 963L1476 948L1457 962L1470 948L1484 937L1481 955M1438 882L1465 869L1447 860L1475 860L1448 853L1439 864M1470 894L1473 871L1490 877L1472 875L1496 906L1482 902M1439 929L1432 918L1468 926L1438 892L1442 934L1463 916M1479 874L1462 889L1474 876L1469 907L1477 896L1463 937M1488 901L1462 894L1473 912L1461 920L1495 903L1467 927M1454 860L1455 879L1467 885L1435 856L1438 886L1446 919M1449 916L1474 913L1452 932L1478 957L1452 949L1465 948M1478 921L1497 932L1490 917L1497 929L1456 916L1471 909M1470 885L1474 924L1455 905L1465 912L1462 926L1465 910" stroke="#000" stroke-width="4.3" stroke-miterlimit="10"/>
<path d="M1143 921L1131 923L1136 883L1127 930L1129 944L1124 912M1091 910L1106 933L1108 920L1103 950L1077 980L1111 971M1062 957L1076 960L1060 952L1106 946L1063 954L1087 921M1085 895L1065 903L1106 898L1093 894L1140 886L1112 900M1103 955L1117 973L1099 947L1127 938L1081 936L1094 932M1095 982L1104 962L1090 970L1102 961L1060 968L1087 943M1142 877L1125 881L1103 900L1136 870L1129 881L1139 868M1079 897L1056 924L1070 920L1099 912L1085 918L1097 916M1113 981L1116 946L1116 964L1119 942L1104 966L1112 931M1094 947L1076 934L1083 950L1060 929L1088 969L1073 924M1133 925L1125 959L1107 934L1086 940L1105 966L1100 939M1089 971L1122 941L1122 963L1118 927L1136 956L1121 953" stroke="#000" stroke-width="4.3" stroke-miterlimit="10"/>
<path d="M1213 886L1189 919L1182 884L1189 922L1199 880L1206 902M1184 865L1176 911L1178 876L1155 916L1151 898L1185 923M1182 917L1160 896L1186 937L1149 956L1174 923L1145 942M1181 924L1169 962L1173 937L1180 954L1190 931L1178 951M1202 974L1175 961L1197 961L1161 954L1159 908L1161 928M1187 955L1219 950L1196 970L1202 957L1162 966L1144 968M1187 893L1160 889L1200 899L1157 915L1188 877L1180 922M1193 949L1162 957L1170 946L1193 944L1144 951L1181 924M1184 909L1143 933L1157 932L1145 926L1166 964L1158 931M1159 870L1195 859L1176 865L1189 862L1147 855L1164 866M1157 875L1180 866L1149 861L1185 875L1154 872L1184 876M1145 970L1156 948L1169 949L1159 937L1157 977L1158 958" stroke="#000" stroke-width="4.3" stroke-miterlimit="10"/>
<path d="M655 765L662 778L665 762L670 810L678 752L682 790" stroke="#000" stroke-width="4.3" stroke-miterlimit="5"/>
<path d="M655 848L670 890L695 960L710 1033" stroke="#000" stroke-width="4.3" stroke-miterlimit="5"/>
<path d="M625 1033L652 1012L658 1022L670 1033" stroke="#000" stroke-width="4.3" stroke-miterlimit="5"/>
<path d="M708 531L730 512L770 459L740 502L718 530" stroke="#000" stroke-width="4.3" stroke-miterlimit="5"/>
<path d="M799 474L818 492L806 454L825 495" stroke="#000" stroke-width="4.3" stroke-miterlimit="5"/>
<path d="M900 478L926 441L940 495L900 478" stroke="#000" stroke-width="4.3" stroke-miterlimit="5"/>
<path d="M942 565L998 526L962 538L938 550" stroke="#000" stroke-width="4.3" stroke-miterlimit="5"/>
<path d="M672 582L650 615L665 675L695 670L690 645L682 600L672 582" stroke="#000" stroke-width="4.3" stroke-miterlimit="5"/>
<path d="M695 625L658 618L690 610" stroke="#000" stroke-width="4.3" stroke-miterlimit="5"/>
<path d="M682 670L652 688L700 680" stroke="#000" stroke-width="4.3" stroke-miterlimit="5"/>
<path d="M848 470L832 495L850 485L875 468L882 490" stroke="#000" stroke-width="4.3" stroke-miterlimit="5"/>
<path d="M1240 648L1250 680L1255 690L1228 705L1250 702L1232 725L1270 678L1290 685L1298 692" stroke="#000" stroke-width="4.3" stroke-miterlimit="5"/>
<path d="M1258 710L1260 785" stroke="#000" stroke-width="4.3" stroke-miterlimit="5"/>
<path d="M1190 781L1188 810L1180 848" stroke="#000" stroke-width="4.3" stroke-miterlimit="5"/>
<path d="M655 764L665 775L662 765L670 802L678 752L680 815L660 820L660 865L695 965L710 1040" stroke="#000" stroke-width="4.3" stroke-miterlimit="5"/>
<path d="M670 870L690 930L700 980" stroke="#000" stroke-width="4.3" stroke-miterlimit="5"/>
<path d="M1015 1135L1022 1188L1035 1180L1025 1135" stroke="#000" stroke-width="4.3" stroke-miterlimit="5"/>
<path d="M1085 1082L1130 1086L1062 1130" stroke="#000" stroke-width="4.3" stroke-miterlimit="5"/>
<path d="M1012 998L1015 1032L1035 1045L1052 1078" stroke="#000" stroke-width="4.3" stroke-miterlimit="5"/>
<path d="M1068 1019L1112 948L1125 1010L1135 1050L1130 1020L1085 1010L1152 1040L1110 1039L1150 1025L1085 1025L1230 1018L1190 1048L1152 1025" stroke="#000" stroke-width="4.3" stroke-miterlimit="5"/>
<path d="M1112 948L1075 1010L1125 990" stroke="#000" stroke-width="4.3" stroke-miterlimit="5"/>
<path d="M1040 980L1070 970L1125 972L1179 982" stroke="#000" stroke-width="4.3" stroke-miterlimit="5"/>
<path d="M1050 985L1090 968L1112 948" stroke="#000" stroke-width="4.3" stroke-miterlimit="5"/>
<path d="M1220 875L1222 885L1360 920" stroke="#000" stroke-width="4.3" stroke-miterlimit="5"/>
<path d="M1222 888L1245 955L1225 965L1218 955" stroke="#000" stroke-width="4.3" stroke-miterlimit="5"/>
<path d="M1212 968L1290 1072L1275 975L1305 975L1288 1020L1298 925L1360 948L1322 1038L1342 1058" stroke="#000" stroke-width="4.3" stroke-miterlimit="5"/>
<path d="M1245 955L1322 1035" stroke="#000" stroke-width="4.3" stroke-miterlimit="5"/>
<path d="M1280 975L1280 1030L1290 1072" stroke="#000" stroke-width="4.3" stroke-miterlimit="5"/>
<path d="M1232 925L1212 918L1250 960L1275 978" stroke="#000" stroke-width="4.3" stroke-miterlimit="5"/>
<path d="M1140 935L1145 970L1150 935L1160 970L1165 935" stroke="#000" stroke-width="4.3" stroke-miterlimit="5"/>
<path d="M1120 898L1150 895L1120 920L1150 942" stroke="#000" stroke-width="4.3" stroke-miterlimit="5"/>
<path d="M651 1014L615 1040L629 1101L665 1035L651 1014L660 1028L710 1048" stroke="#000" stroke-width="4.3" stroke-miterlimit="5"/>
<path d="M665 1035L658 1060L740 1060" stroke="#000" stroke-width="4.3" stroke-miterlimit="5"/>
<path d="M695 968L710 1048L720 1080L735 1105" stroke="#000" stroke-width="4.3" stroke-miterlimit="5"/>
<path d="M682 1022L715 1045L748 1060L802 1104L735 1065L715 1040" stroke="#000" stroke-width="4.3" stroke-miterlimit="5"/>
<path d="M706 1108L745 1020L720 1080L706 1108" stroke="#000" stroke-width="4.3" stroke-miterlimit="5"/>
<path d="M750 975L760 1010L770 1045L780 985L765 1010L745 1055" stroke="#000" stroke-width="4.3" stroke-miterlimit="5"/>
<path d="M792 985L808 1062L852 1090L832 1010L815 998" stroke="#000" stroke-width="4.3" stroke-miterlimit="5"/>
<path d="M805 1036L860 1005L835 990" stroke="#000" stroke-width="4.3" stroke-miterlimit="5"/>
<path d="M880 1048L935 1050L888 1059L898 1015L895 1048" stroke="#000" stroke-width="4.3" stroke-miterlimit="5"/>
<path d="M755 968L750 985L760 1005L785 980" stroke="#000" stroke-width="4.3" stroke-miterlimit="5"/>
<path d="M1291 456L1215 446L1241 454L1248 469L1236 476L1294 459" stroke="#000" stroke-width="4.3" stroke-miterlimit="5"/>
<path d="M1305 490L1302 445L1295 432L1280 442L1290 452L1310 408" stroke="#000" stroke-width="4.3" stroke-miterlimit="5"/>
<path d="M1282 414L1310 420L1330 432L1325 390L1315 415" stroke="#000" stroke-width="4.3" stroke-miterlimit="5"/>
<path d="M1615 535L1570 535L1552 492L1570 520" stroke="#000" stroke-width="4.3" stroke-miterlimit="5"/>
<path d="M1502 440L1480 445L1512 458L1525 478L1500 482" stroke="#000" stroke-width="4.3" stroke-miterlimit="5"/>
<path d="M1385 385L1430 392L1400 398L1448 402" stroke="#000" stroke-width="4.3" stroke-miterlimit="5"/>
<path d="M1240 646L1255 695L1270 678L1290 685L1228 705L1255 713" stroke="#000" stroke-width="4.3" stroke-miterlimit="5"/>
<path d="M1305 618L1322 645L1335 615L1305 618" stroke="#000" stroke-width="4.3" stroke-miterlimit="5"/>
<path d="M1678 680L1716 690L1696 765L1678 770L1686 725" stroke="#000" stroke-width="4.3" stroke-miterlimit="5"/>
<path d="M1658 622L1689 649L1666 672L1673 692L1678 680L1633 660" stroke="#000" stroke-width="4.3" stroke-miterlimit="5"/>
<path d="M1703 770L1749 818L1706 790L1728 795" stroke="#000" stroke-width="4.3" stroke-miterlimit="5"/>
<path d="M1708 815L1719 856" stroke="#000" stroke-width="4.3" stroke-miterlimit="5"/>
<path d="M1643 735L1667 732L1668 765L1633 700L1646 680" stroke="#000" stroke-width="4.3" stroke-miterlimit="5"/>
<path d="M1648 578L1643 602L1670 620L1633 615" stroke="#000" stroke-width="4.3" stroke-miterlimit="5"/>
<path d="M1608 548L1613 570L1636 572L1648 578" stroke="#000" stroke-width="4.3" stroke-miterlimit="5"/>
<path d="M1383 914L1430 896" stroke="#000" stroke-width="4.3" stroke-miterlimit="5"/>
<path d="M1430 875L1428 950L1466 925L1427 962L1463 945" stroke="#000" stroke-width="4.3" stroke-miterlimit="5"/>
<path d="M1430 1028L1438 1095L1546 1060L1533 1058L1440 1075L1428 1050L1458 1032L1423 1082L1436 1065" stroke="#000" stroke-width="4.3" stroke-miterlimit="5"/>
<path d="M1536 1075L1583 1040L1610 1056L1568 1045" stroke="#000" stroke-width="4.3" stroke-miterlimit="5"/>
<path d="M1618 995L1626 1021L1608 1000" stroke="#000" stroke-width="4.3" stroke-miterlimit="5"/>
<path d="M1640 972L1638 995L1623 995" stroke="#000" stroke-width="4.3" stroke-miterlimit="5"/>
<path d="M1680 942L1648 960L1678 962L1633 975" stroke="#000" stroke-width="4.3" stroke-miterlimit="5"/>
<path d="M1688 920L1658 935L1683 915" stroke="#000" stroke-width="4.3" stroke-miterlimit="5"/>
<path d="M1710 820L1719 856L1703 825" stroke="#000" stroke-width="4.3" stroke-miterlimit="5"/>
<path d="M1750 818L1716 802L1708 815" stroke="#000" stroke-width="4.3" stroke-miterlimit="5"/>
<path d="M1702 880L1670 882L1683 905" stroke="#000" stroke-width="4.3" stroke-miterlimit="5"/>
<path d="M1444 980L1466 985L1448 992" stroke="#000" stroke-width="4.3" stroke-miterlimit="5"/>
<path d="M1240 648L1252 685L1258 690L1228 706L1260 702L1230 728L1290 685L1270 678L1258 690" stroke="#000" stroke-width="4.3" stroke-miterlimit="5"/>
<path d="M1258 728L1260 785" stroke="#000" stroke-width="4.3" stroke-miterlimit="5"/>
<path d="M1190 781L1188 848L1180 815" stroke="#000" stroke-width="4.3" stroke-miterlimit="5"/>
<path d="M1220 880L1358 919L1428 898" stroke="#000" stroke-width="4.3" stroke-miterlimit="5"/>
<path d="M1428 860L1430 952L1450 940" stroke="#000" stroke-width="4.3" stroke-miterlimit="5"/>
<path d="M1298 983L1300 924L1360 948L1350 983" stroke="#000" stroke-width="4.3" stroke-miterlimit="5"/>
<path d="M1332 790L1345 810L1360 795L1372 830L1390 815L1352 830L1340 815" stroke="#000" stroke-width="4.3" stroke-miterlimit="5"/>
<path d="M895 740L925 720L962 710L1000 700L1025 680L1050 670L1075 677L1082 700L1075 735L1080 772L1075 810L1060 835L1040 860L1030 897L1020 935L1010 965L982 990L945 1008L895 1005L845 995L807 977L795 952L807 915L802 877L807 840L832 802L857 770Z" fill="#f00" stroke="#f00" stroke-width="3"/>
<path d="M1375 605L1400 587L1430 582L1458 585L1483 590L1500 615L1503 652L1508 690L1523 715L1533 740L1535 777L1530 805L1523 825L1495 842L1458 850L1433 837L1390 825L1350 795L1365 765L1347 727L1335 685L1350 640L1360 620Z" fill="#f00" stroke="#f00" stroke-width="3"/>
<path d="M810 845L782 890L758 915L745 940L758 970L795 985L832 990L832 865Z" fill="#f00" stroke="#f00" stroke-width="3"/>
<path d="M348 356L396 377L395 399L362 405L322 358L342 336L374 305L330 340M433 335L403 304L375 328L342 308L401 280L430 273L401 259L418 290M433 327L425 355L456 314L439 357L415 337L422 366L382 361L333 342M406 440L361 426L341 415L325 398L383 403L364 443L395 393L405 449M433 291L405 303L447 267L412 281L361 297L393 289L409 263L379 306M332 302L324 362L347 396L363 381L429 360L428 293L366 286L371 321M323 365L336 332L328 309L381 270L333 281L376 263L376 314L388 252M365 282L373 253L370 277L354 254L413 290L395 332L362 312L400 322M331 358L342 381L350 342L331 290L357 339L396 323L406 284L431 308M434 381L452 319L402 297L429 298L456 306L441 285L443 316L430 291M399 410L402 386L420 353L417 387L377 419L354 451L378 417L377 348M337 387L379 355L350 362L396 329L384 358L416 348L385 367L378 430M384 321L365 345L388 374L332 334L351 294L342 246L351 313L336 283" stroke="#f00" stroke-width="4.3" stroke-miterlimit="10"/>
<path d="M356 270L364 282L365 275L369 298L357 286L357 293M415 323L407 314L423 299L417 302L421 297L404 300M390 329L365 327L380 326L372 323L377 326L367 320M352 293L346 286L349 297L354 286L354 293L352 280M374 333L382 316L378 327L385 323L381 335L391 330M375 278L381 280L372 282L377 279L354 295L377 300M380 281L394 284L385 273L409 275L399 279L406 287M373 330L378 311L387 331L395 325L371 334L388 333M359 332L386 325L367 317L363 310L365 316L382 308M413 321L390 313L410 328L412 315L411 321L400 299M369 320L386 321L371 312L381 318L354 321L357 307M352 285L364 305L341 294L355 303L381 304L369 303M404 299L404 306L414 283L396 304L415 301L409 316M419 322L401 328L411 311L415 318L406 294L418 300M373 333L368 325L380 327L383 322L405 316L397 318M390 333L412 328L404 328L394 334L389 316L396 326M422 293L413 299L417 296L402 310L409 284L415 283M424 308L421 318L418 307L422 313L424 306L421 294M406 312L425 293L406 302L425 293L417 294L422 297M358 292L371 276L365 287L370 287L346 299L349 324M388 298L396 318L390 295L371 313L350 300L352 307M363 311L342 296L348 297L367 282L343 290L360 299M368 269L346 269L355 273L351 270L359 287L354 284M368 329L377 309L371 319L377 318L371 298L384 305M360 319L350 309L363 329L352 327L359 336L354 327M422 300L417 306L420 311L413 304L403 296L410 308" stroke="#f00" stroke-width="4.3" stroke-miterlimit="10"/>
<path d="M445 270L440 271L445 267L437 266L451 275L444 276M428 249L437 246L428 255L447 256L429 260L433 254M432 264L430 260L429 270L430 257L433 253L429 257M443 240L446 246L435 261L444 256L446 250L430 259M424 254L436 247L426 244L436 241L429 241L436 246" stroke="#f00" stroke-width="4.3" stroke-miterlimit="10"/>
<path d="M423 492L412 474L380 505L399 450L377 500L397 442L369 489L378 465M414 459L449 448L435 485L447 450L408 489L426 476L389 512L430 515M480 520L482 589L449 528L389 539L437 568L419 589L450 574L475 551M451 494L406 500L396 527L364 476L406 458L374 475L398 474L381 495M331 479L367 505L341 475L366 520L359 494L328 462L351 448L387 490M413 596L473 587L456 567L451 607L433 551L430 589L403 595L430 558M431 446L458 484L441 453L448 493L405 517L407 547L450 546L440 499M458 601L438 567L477 577L429 543L456 548L463 596L492 562L463 503M476 570L443 583L448 551L398 519L397 485L390 543L407 559L399 492M446 495L421 508L398 529L363 493L392 527L346 482L404 462L448 504M446 535L384 523L420 574L460 522L486 550L460 580L479 591L414 583M525 544L466 548L487 515L458 475L452 448L445 486L405 467L423 529M417 452L380 477L392 458L419 460L381 484L437 480L434 544L388 530M510 531L471 493L449 494L441 515L461 493L472 548L478 578L462 527M445 564L496 555L530 548L505 575L487 551L450 549L476 547L433 568" stroke="#f00" stroke-width="4.3" stroke-miterlimit="10"/>
<path d="M442 513L461 522L444 527L460 520L454 524L436 514M450 568L454 564L450 552L453 562L441 535L451 557M486 541L476 566L487 547L503 541L495 556L502 532M456 514L464 517L439 518L452 525L446 510L441 536M452 527L478 520L471 525L480 520L471 527L486 528M479 537L470 519L471 513L450 530L464 523L460 528M426 525L433 525L424 527L420 524L428 528L421 515M458 508L454 515L460 524L455 523L462 518L447 535M427 555L430 537L421 547L432 519L435 544L421 534M413 521L441 519L417 534L422 525L433 508L418 516M418 547L424 520L432 542L436 518L436 547L441 541M491 512L478 530L474 511L479 540L492 515L490 541M439 519L438 538L449 527L438 536L466 537L448 535M412 532L421 532L414 535L431 525L417 534L431 523M463 535L454 508L453 535L463 519L459 526L457 519M477 555L465 536L473 534L465 541L473 526L469 533M444 516L439 514L455 515L439 528L468 523L464 529M488 521L481 525L479 552L471 549L493 542L481 561M504 545L478 553L491 559L480 553L491 552L485 555M441 554L428 554L435 547L424 551L441 543L413 541M453 536L433 552L450 555L447 542L457 560L451 558M484 520L492 524L480 522L496 524L487 532L498 522" stroke="#f00" stroke-width="4.3" stroke-miterlimit="10"/>
<path d="M1032 756L1028 718L1016 747L1039 712L989 743L1019 734M863 725L823 738L851 704L861 732L843 723L858 746M809 677L800 704L794 685L804 736L834 688L856 696M988 720L1008 665L955 687L1000 707L969 717L1002 731M1041 657L1022 653L1039 668L998 652L967 641L998 666M922 672L942 638L965 650L925 649L965 647L919 659M979 647L995 698L978 656L979 690L980 653L993 691M1014 744L1020 707L1028 752L1014 726L980 731L1015 711M784 743L746 757L729 738L726 754L747 731L732 743M940 667L956 658L913 646L946 672L913 657L954 649M720 743L698 754L725 743L764 723L793 719L737 738M975 740L962 750L915 740L936 727L907 727L945 710M803 718L819 749L835 700L828 738L870 733L820 750M831 759L819 713L852 743L826 710L863 720L846 726M925 669L884 661L897 681L882 658L871 696L912 655M899 749L890 729L940 758L989 745L964 712L969 760M738 759L744 745L751 722L742 742L760 685L754 736M910 739L955 725L901 741L931 732L907 723L939 738M907 762L903 712L900 733L871 693L883 749L878 730M982 682L950 714L997 707L946 681L996 671L962 637M1046 756L1008 750L1056 749L1028 725L1045 746L1023 758M1017 661L1004 647L1006 693L1047 651L992 674L967 716M889 707L939 724L917 701L937 704L923 690L938 717M810 705L763 718L808 733L807 684L795 709L808 697M1027 742L997 696L996 720L1028 694L1042 655L1047 681M915 686L952 720L928 723L950 698L954 721L941 698M887 656L935 657L966 662L933 658L964 687L983 708M1004 699L967 697L1006 663L972 692L1015 693L982 688M697 729L729 749L708 728L713 757L701 742L734 750M785 680L839 691L856 684L835 701L865 746L918 731" stroke="#f00" stroke-width="4.3" stroke-miterlimit="10"/>
<path d="M1159 816L1131 811L1204 818L1149 821L1222 804M1163 814L1203 819L1259 793L1325 816L1297 806M1099 809L1138 791L1110 799L1136 802L1209 816M1265 821L1314 829L1249 816L1286 794L1338 790M1155 842L1202 821L1225 817L1275 834L1210 857" stroke="#f00" stroke-width="4.3" stroke-miterlimit="10"/>
<path d="M1357 572L1318 576L1357 604L1342 613L1360 607L1354 619M1335 654L1319 624L1347 640L1337 628L1342 640L1315 623M1332 736L1349 731L1306 744L1307 706L1293 750L1289 736M1329 763L1353 774L1340 776L1352 781L1346 764L1336 782M1279 739L1306 724L1291 719L1302 711L1296 734L1310 713M1341 573L1337 614L1341 582L1337 598L1331 565L1317 572M1321 732L1306 735L1347 756L1320 719L1315 734L1324 712M1335 681L1345 636L1329 668L1324 699L1342 737L1318 696M1338 768L1309 762L1328 784L1302 773L1348 760L1328 764M1354 688L1312 662L1327 659L1318 622L1338 639L1330 620M1309 702L1339 717L1308 710L1350 714L1339 703L1351 736M1350 575L1338 580L1345 563L1329 589L1354 572L1335 587M1327 781L1339 782L1325 775L1353 775L1349 747L1355 730M1341 574L1339 595L1347 580L1350 610L1348 590L1348 631M1353 751L1354 781L1340 757L1345 776L1346 736L1341 782M1290 730L1326 741L1297 750L1310 753L1274 752L1292 738" stroke="#f00" stroke-width="4.3" stroke-miterlimit="10"/>
<path d="M1039 873L1032 844L1024 891L1024 873L1035 892L1014 878M931 768L916 802L951 814L933 801L960 807L921 820M1086 693L1110 686L1100 705L1106 675L1114 694L1089 682M928 808L908 813L923 798L904 790L911 806L943 789M1051 792L1058 776L1074 820L1082 788L1070 827L1085 801M1048 689L1089 703L1069 713L1095 690L1082 698L1096 697M1017 781L993 745L1013 777L1010 751L997 786L1040 762M949 802L914 826L934 815L911 822L921 804L910 839M947 803L959 777L947 815L956 782L938 810L960 789M973 722L996 698L973 712L1018 709L1004 714L1030 710M1071 809L1056 812L1092 788L1077 808L1077 790L1088 826M962 851L1004 863L988 868L963 886L1001 890L975 886M1043 683L1030 655L1052 666L1022 660L1049 662L1074 668M1091 733L1045 725L1089 720L1075 710L1083 735L1057 701M926 664L956 646L940 679L934 645L917 691L928 706M922 813L901 772L924 802L908 797L951 806L919 814M912 767L929 795L937 753L937 777L942 738L918 756M972 875L940 889L953 866L966 885L942 865L930 864M1035 753L989 746L1027 746L1030 711L1008 748L1033 782" stroke="#f00" stroke-width="4.3" stroke-miterlimit="10"/>
<path d="M738 815L673 856L703 858L765 832L683 855M803 798L776 805L857 760L805 768L756 781M794 876L718 928L769 914L716 900L670 905M731 786L781 769L837 748L809 748L730 756M730 863L758 842L719 830L797 781L766 793M699 854L765 839L721 827L751 832L715 842M680 882L735 882L771 869L705 859L671 881M693 929L645 918L685 919L755 875L691 896M655 976L700 968L642 974L690 981L750 960M829 782L761 805L706 802L781 837L718 870M702 876L672 863L696 850L671 846L721 868M782 847L712 814L737 811L675 838L753 829M660 904L732 896L779 867L756 878L671 852M721 770L804 767L771 774L861 747L797 771M778 859L721 897L761 902L790 895L717 944M782 852L710 853L754 827L796 807L730 780M815 811L754 829L666 822L723 847L796 843M668 828L759 838L686 851L710 858L787 841M715 831L740 824L671 856L719 855L674 838M851 757L813 770L786 766L823 756L794 777M767 910L674 892L702 895L753 911L671 882M660 932L693 916L663 908L730 928L798 922" stroke="#f00" stroke-width="4.3" stroke-miterlimit="10"/>
<path d="M773 907L802 891L798 876L793 929L780 916L798 916M788 814L798 792L802 842L787 796L796 823L787 802M746 916L798 926L762 890L790 937L800 897L791 923M759 827L743 876L761 866L749 879L789 871L757 888M810 885L789 865L806 876L793 860L795 837L786 882M757 911L793 922L749 947L795 960L756 975L767 956M756 892L780 892L759 879L776 887L755 842L746 880M792 868L766 913L769 889L793 934L777 930L794 944M747 984L775 983L776 928L789 941L758 919L793 913M761 931L799 933L782 950L803 925L757 910L776 900M815 817L816 856L802 813L813 827L781 788L814 809M757 906L798 949L780 904L797 910L787 889L788 905M725 918L768 881L720 908L751 915L722 931L735 881M781 855L763 888L775 853L766 874L752 841L775 860M773 911L762 897L790 931L768 877L771 911L782 852M747 791L749 812L779 805L772 843L797 792L802 808" stroke="#f00" stroke-width="4.3" stroke-miterlimit="10"/>
<path d="M1433 576L1379 562L1430 575L1413 584L1436 575L1401 578M1354 610L1374 604L1335 608L1294 616L1308 614L1331 636M1309 638L1326 607L1309 646L1302 622L1324 582L1310 600M1430 580L1424 566L1451 575L1438 556L1455 567L1438 560M1437 529L1389 531L1414 515L1388 515L1407 515L1377 528M1349 587L1341 601L1339 586L1336 601L1353 577L1339 590M1391 564L1401 521L1373 537L1419 548L1434 549L1401 582M1321 610L1307 558L1327 590L1328 630L1322 611L1329 625M1411 579L1459 582L1443 562L1458 568L1448 551L1459 578M1317 597L1318 575L1324 596L1365 587L1334 571L1341 590M1305 632L1326 592L1322 621L1319 574L1307 562L1359 579M1339 629L1370 593L1357 600L1319 575L1349 570L1294 574M1402 542L1413 508L1401 523L1428 508L1416 554L1404 526M1362 612L1353 563L1346 594L1350 580L1325 582L1341 573M1446 526L1449 559L1419 514L1470 519L1421 514L1465 525M1361 565L1408 556L1407 574L1392 558L1405 578L1384 565M1398 562L1384 547L1383 571L1351 532L1365 579L1389 554M1310 600L1293 588L1312 616L1313 635L1289 591L1291 605M1354 613L1338 634L1347 611L1346 591L1343 633L1347 612M1346 568L1399 563L1381 567L1354 577L1366 552L1335 588" stroke="#f00" stroke-width="4.3" stroke-miterlimit="10"/>
<path d="M1402 699L1404 661L1408 695L1400 675L1419 682L1389 685M1392 667L1411 655L1370 652L1381 651L1353 624L1373 647M1492 662L1498 644L1486 656L1479 665L1512 662L1491 650M1370 634L1407 611L1396 624L1406 609L1379 614L1389 615M1479 684L1460 712L1467 677L1475 693L1465 673L1461 686M1444 631L1452 612L1484 620L1463 626L1483 612L1458 627M1455 660L1463 671L1447 661L1467 661L1437 683L1458 668M1505 711L1483 712L1499 700L1466 698L1493 686L1480 694M1389 586L1367 594L1387 597L1356 619L1363 611L1347 615M1346 616L1372 581L1361 604L1381 595L1381 623L1376 591M1501 671L1475 657L1492 679L1476 659L1494 668L1485 646M1446 668L1427 657L1464 673L1436 706L1450 699L1416 710" stroke="#f00" stroke-width="4.3" stroke-miterlimit="10"/>
<path d="M1480 562L1461 578L1447 567L1404 560L1423 559L1395 543M1464 565L1435 564L1466 584L1460 556L1468 569L1450 562M1436 589L1475 581L1440 583L1468 555L1436 554L1450 567M1429 545L1442 569L1409 545L1410 557L1414 543L1394 584M1413 594L1402 569L1403 579L1425 551L1411 584L1424 566M1420 591L1437 557L1407 587L1437 586L1408 569L1430 581M1435 542L1423 578L1434 555L1434 567L1439 555L1457 540M1451 562L1423 548L1427 561L1422 585L1428 560L1399 577M1412 553L1400 572L1406 548L1425 583L1391 600L1408 579M1431 562L1415 589L1445 583L1435 587L1421 591L1432 579M1461 575L1469 583L1428 584L1450 570L1407 575L1445 566" stroke="#f00" stroke-width="4.3" stroke-miterlimit="10"/>
<path d="M1124 808L1163 812L1118 806L1175 782L1134 825M1317 831L1260 836L1308 829L1278 842L1302 831M1123 846L1144 844L1120 858L1166 814L1197 813M1105 832L1173 831L1159 846L1202 811L1258 798M1303 827L1321 824L1302 832L1245 845L1296 805M1246 831L1221 842L1243 831L1275 817L1255 816" stroke="#f00" stroke-width="4.3" stroke-miterlimit="10"/>
<path d="M1295 740L1315 730L1280 740L1247 718L1250 733L1251 703M1252 706L1276 702L1257 724L1268 694L1251 734L1289 719M1316 713L1342 707L1313 695L1336 704L1321 694L1347 702M1316 769L1307 759L1314 721L1284 753L1316 737L1296 762M1346 766L1333 787L1345 782L1318 776L1346 759L1307 780M1248 728L1260 748L1248 716L1249 731L1259 712L1272 710M1268 767L1302 748L1274 764L1315 776L1289 786L1302 787M1258 715L1279 715L1264 712L1285 740L1276 710L1291 726M1341 724L1329 739L1327 709L1328 688L1333 711L1326 697" stroke="#f00" stroke-width="4.3" stroke-miterlimit="10"/>
<path d="M899 738L892 733L911 736L900 726L905 736L900 729L917 726L893 719M910 733L900 705L930 723L932 702L937 721L936 695L945 721L943 703M944 717L941 700L946 717L945 694L962 718L944 694L960 714L948 702M963 715L946 694L971 709L964 699L977 713L971 701L972 713L974 696M980 712L966 688L992 706L987 696L986 706L977 691L1004 697L995 688M1018 690L1007 667L1014 692L1013 673L1024 689L1015 678L1019 688L998 667M1026 685L1000 672L1018 688L1001 673L1024 687L1023 676L1033 685L1036 654M1044 679L1037 659L1033 681L1035 670L1033 681L1029 663L1050 676L1048 648M1052 672L1048 660L1051 677L1052 647L1056 672L1060 659L1047 671L1062 655M1053 674L1061 657L1065 682L1068 659L1059 680L1057 650L1071 681L1071 666M1077 687L1088 677L1067 675L1080 680L1071 677L1080 679L1071 683L1087 679M1079 693L1083 683L1071 680L1094 668L1077 699L1116 702L1076 702L1084 710M1072 720L1091 713L1077 707L1111 734L1074 724L1088 729L1071 733L1085 729M1074 736L1085 739L1067 735L1095 744L1075 762L1101 747L1077 760L1098 750M1072 767L1098 767L1072 777L1092 786L1074 786L1088 786L1069 798L1087 797M1072 802L1090 793L1071 802L1081 820L1072 803L1078 820L1066 809L1086 818M1067 822L1088 851L1061 823L1076 839L1055 833L1075 843L1052 838L1063 855M1046 845L1057 849L1056 838L1062 852L1040 847L1049 856L1045 847L1066 858M1039 859L1054 871L1040 851L1046 869L1036 858L1061 862L1035 871L1052 881M1035 876L1043 882L1027 904L1046 915L1026 903L1044 903L1026 898L1042 915M1022 910L1045 913L1020 913L1043 929L1024 918L1047 913L1022 911L1058 913M1017 932L1038 933L1013 931L1031 941L1008 957L1021 952L1008 950L1025 955M1006 953L1019 966L1008 957L1035 981L1003 965L1018 968L988 980L1004 989M974 991L976 1001L957 996L965 1010L949 1006L950 1029L940 1005L940 1019M934 1002L933 1012L934 1006L930 1027L930 1003L931 1021L913 1005L909 1013M914 1000L900 1017L902 1003L905 1015L899 1004L904 1019L899 1002L880 1036M893 1002L896 1019L884 1001L878 1034L881 995L884 1011L874 996L873 1013M876 995L875 1021L874 994L876 1009L876 996L866 1011L851 996L852 1003M846 988L854 1030L847 988L844 1002L838 988L814 1014L830 981L825 1006M831 987L827 1008L828 985L823 991L820 975L813 1011L829 981L821 1005M818 977L808 985L822 976L809 984L809 976L800 988L802 962L792 972M799 957L790 971L807 961L789 962L798 952L790 955L798 948L778 943M803 939L783 922L809 931L788 934L805 926L785 930L807 928L794 924M810 914L798 917L812 915L795 919L809 918L798 917L812 907L800 913M813 905L787 924L815 917L799 915L806 904L788 921L807 896L789 907M807 904L792 897L809 887L799 893L812 897L788 890L811 889L784 883M804 883L795 892L811 892L790 893L809 881L797 888L809 895L781 888M805 874L791 873L810 879L797 871L809 850L793 847L809 844L789 834M815 837L808 829L817 828L807 822L824 828L800 812L823 818L813 799M835 810L822 807L829 808L814 801L834 801L825 790L858 777L846 772M859 774L844 768L855 777L826 768L864 771L838 761L860 776L852 762M865 771L855 728L870 765L854 753L875 762L866 753L881 754L879 738M884 756L879 744L899 742L881 734" stroke="#f00" stroke-width="4.3" stroke-miterlimit="10"/>
<path d="M1395 601L1385 583L1391 594L1383 573L1397 596L1377 585L1395 591L1400 567M1412 589L1406 573L1408 586L1407 574L1409 586L1420 568L1412 593L1391 555M1427 589L1408 566L1419 589L1420 577L1434 586L1439 557L1427 582L1443 565M1439 588L1432 572L1447 587L1438 574L1447 590L1453 577L1451 588L1450 578M1454 585L1459 571L1465 587L1456 563L1463 594L1459 565L1470 591L1467 578M1475 588L1492 577L1489 599L1498 588L1483 604L1502 591L1485 607L1501 584M1485 601L1507 593L1488 605L1498 600L1498 620L1509 619L1500 622L1518 629M1497 634L1514 621L1501 635L1520 635L1497 666L1512 656L1500 662L1528 662M1502 667L1515 673L1499 679L1520 667L1501 679L1528 677L1500 688L1518 688M1507 696L1525 679L1505 696L1536 695L1515 712L1526 688L1516 705L1531 705M1515 713L1530 706L1512 708L1528 696L1531 740L1547 735L1533 751L1566 737M1532 738L1546 747L1530 748L1553 755L1528 757L1553 757L1529 751L1556 756M1532 762L1555 759L1533 768L1565 770L1534 771L1552 778L1528 780L1545 771M1531 783L1561 794L1530 796L1555 820L1521 810L1536 814L1526 816L1539 823M1526 817L1543 821L1522 810L1534 825L1518 828L1547 825L1521 818L1523 841M1512 828L1521 840L1515 821L1528 852L1508 832L1524 849L1500 836L1505 854M1495 838L1506 844L1489 842L1488 861L1487 840L1489 860L1482 839L1486 852M1466 840L1479 855L1471 847L1467 871L1477 845L1487 879L1448 841L1443 852M1455 843L1444 852L1440 835L1442 853L1447 840L1438 863L1438 835L1437 861M1436 837L1434 849L1424 834L1425 850L1421 829L1420 845L1414 826L1423 852M1413 826L1415 843L1415 826L1404 849L1398 825L1400 847L1394 822L1389 838M1389 819L1386 836L1391 821L1381 834L1391 818L1383 827L1386 813L1375 834M1392 818L1368 834L1379 812L1374 837L1372 810L1369 828L1367 806L1369 816M1375 807L1365 817L1360 801L1354 814L1363 802L1351 813L1357 798L1348 808M1350 793L1345 815L1355 791L1347 820L1353 796L1335 785L1352 795L1349 783M1363 784L1343 782L1361 784L1350 771L1358 785L1348 778L1359 779L1345 773M1363 774L1349 772L1367 764L1349 750L1368 770L1345 765L1370 764L1339 769M1368 761L1358 765L1367 751L1358 763L1362 753L1346 756L1362 748L1354 756M1355 742L1337 747L1356 745L1344 756L1360 738L1328 756L1358 735L1338 760M1357 741L1342 753L1354 731L1346 741L1346 723L1314 739L1350 722L1336 731M1355 727L1321 724L1345 711L1326 734L1345 714L1335 717L1346 703L1314 704M1351 713L1334 714L1347 704L1325 719L1344 704L1311 716L1345 697L1328 694M1344 691L1317 707L1336 684L1325 702L1342 697L1326 700L1337 688L1313 681M1341 683L1320 681L1347 674L1332 672L1340 675L1322 663L1347 669L1327 673M1340 673L1307 666L1344 664L1328 663L1349 659L1329 652L1346 660L1321 633M1348 656L1325 657L1346 652L1328 634L1348 646L1334 648L1353 640L1335 621M1360 632L1339 626L1362 633L1348 628L1363 623L1336 627L1360 625L1350 621M1365 619L1347 623L1367 623L1360 608" stroke="#f00" stroke-width="4.3" stroke-miterlimit="10"/>
<path d="M703 926L730 915L773 884L801 867L774 891M711 935L744 933L779 914L761 922L791 922M752 946L732 943L696 948L728 922L777 943M755 892L720 912L700 924L718 904L752 922M760 901L785 896L757 909L790 883L766 893M753 909L777 913L802 906L747 914L776 890M779 989L744 991L789 982L757 976L716 986M696 929L733 943L752 929L695 931L729 945M700 973L727 964L747 970L770 955L719 931M741 973L766 973L732 973L684 945L722 921M742 992L772 991L725 982L761 990L804 951M781 949L754 965L705 984L747 987L768 972M791 950L806 933L769 957L747 965L775 957M727 977L762 949L780 933L742 964L686 952M756 986L726 982L695 972L730 948L694 963M736 910L789 914L736 914L688 935L741 941M722 936L689 951L739 942L785 946L735 934M714 959L694 973L741 937L723 930L755 897M785 953L740 938L711 924L753 939L696 948M772 929L738 945L714 941L673 944L696 952M803 868L783 883L731 899L707 909L740 910M772 884L797 884L778 879L800 882L778 881M719 920L750 928L776 902L795 900L745 928M760 897L794 866L774 875L799 876L777 891" stroke="#f00" stroke-width="4.3" stroke-miterlimit="10"/>
<path d="M569 322L623 284L614 234L607 208L599 220L588 192L579 181L552 230L596 185L578 196L555 206L542 201L531 134L525 222L568 246L588 225L576 192" stroke="#f00" stroke-width="4.3" stroke-miterlimit="5"/>
<path d="M599 220L619 234" stroke="#f00" stroke-width="4.3" stroke-miterlimit="5"/>
<path d="M578 196L525 220L465 240L555 206L502 228L452 242" stroke="#f00" stroke-width="4.3" stroke-miterlimit="5"/>
<path d="M465 150L475 151L473 225L502 216L471 156L465 150" stroke="#f00" stroke-width="4.3" stroke-miterlimit="5"/>
<path d="M498 218L504 230L460 238" stroke="#f00" stroke-width="4.3" stroke-miterlimit="5"/>
<path d="M409 184L462 184L422 228L405 189L438 215L440 260" stroke="#f00" stroke-width="4.3" stroke-miterlimit="5"/>
<path d="M410 185L415 240L462 184" stroke="#f00" stroke-width="4.3" stroke-miterlimit="5"/>
<path d="M345 250L381 164L340 176L336 245" stroke="#f00" stroke-width="4.3" stroke-miterlimit="5"/>
<path d="M261 275L298 260L335 248L412 238L460 225" stroke="#f00" stroke-width="4.3" stroke-miterlimit="5"/>
<path d="M298 260L332 282" stroke="#f00" stroke-width="4.3" stroke-miterlimit="5"/>
<path d="M448 259L542 240L498 265L480 290L460 318L435 375" stroke="#f00" stroke-width="4.3" stroke-miterlimit="5"/>
<path d="M480 280L492 304L531 332L475 322" stroke="#f00" stroke-width="4.3" stroke-miterlimit="5"/>
<path d="M531 332L455 348L415 350" stroke="#f00" stroke-width="4.3" stroke-miterlimit="5"/>
<path d="M470 308L485 358" stroke="#f00" stroke-width="4.3" stroke-miterlimit="5"/>
<path d="M448 362L490 414L395 401L452 395L375 365" stroke="#f00" stroke-width="4.3" stroke-miterlimit="5"/>
<path d="M330 310L319 302L294 318L302 362L286 372L320 360L326 379L299 386L320 352" stroke="#f00" stroke-width="4.3" stroke-miterlimit="5"/>
<path d="M306 395L360 405L395 420L375 435" stroke="#f00" stroke-width="4.3" stroke-miterlimit="5"/>
<path d="M315 440L306 471L322 488L380 505L335 498L326 538L365 522L335 498L344 472L330 445" stroke="#f00" stroke-width="4.3" stroke-miterlimit="5"/>
<path d="M475 494L522 469L549 512L599 528L565 542L580 545" stroke="#f00" stroke-width="4.3" stroke-miterlimit="5"/>
<path d="M522 469L572 540L510 565" stroke="#f00" stroke-width="4.3" stroke-miterlimit="5"/>
<path d="M475 494L552 512L599 528L510 570" stroke="#f00" stroke-width="4.3" stroke-miterlimit="5"/>
<path d="M368 591L390 605L400 590L388 578L368 591" stroke="#f00" stroke-width="4.3" stroke-miterlimit="5"/>
<path d="M400 590L410 650L370 624L350 681L428 656L438 630" stroke="#f00" stroke-width="4.3" stroke-miterlimit="5"/>
<path d="M370 624L360 670" stroke="#f00" stroke-width="4.3" stroke-miterlimit="5"/>
<path d="M418 620L465 602L430 630L448 590L452 625L415 602" stroke="#f00" stroke-width="4.3" stroke-miterlimit="5"/>
<path d="M452 630L505 660L610 684L564 659L595 651L518 650L485 605L475 640L465 675L480 700L505 684" stroke="#f00" stroke-width="4.3" stroke-miterlimit="5"/>
<path d="M440 635L439 660L410 705L488 668L470 648L452 630L475 628" stroke="#f00" stroke-width="4.3" stroke-miterlimit="5"/>
<path d="M480 700L558 696L565 721L424 744L522 709L488 700L425 742" stroke="#f00" stroke-width="4.3" stroke-miterlimit="5"/>
<path d="M458 580L502 582L490 598L458 580" stroke="#f00" stroke-width="4.3" stroke-miterlimit="5"/>
<path d="M341 774L405 765L425 756L436 762L462 774L435 776L435 746" stroke="#f00" stroke-width="4.3" stroke-miterlimit="5"/>
<path d="M341 774L385 778L395 788L388 800L409 825L400 802L432 810L465 805L482 835L492 838" stroke="#f00" stroke-width="4.3" stroke-miterlimit="5"/>
<path d="M382 778L405 765" stroke="#f00" stroke-width="4.3" stroke-miterlimit="5"/>
<path d="M395 782L430 794L470 806L518 826L485 838L502 758L511 810L495 871L525 815L531 812L542 812L575 824L526 871L610 849L580 812L695 781L585 822L630 815L695 840" stroke="#f00" stroke-width="4.3" stroke-miterlimit="5"/>
<path d="M470 806L480 785L485 838" stroke="#f00" stroke-width="4.3" stroke-miterlimit="5"/>
<path d="M580 812L580 832L590 826" stroke="#f00" stroke-width="4.3" stroke-miterlimit="5"/>
<path d="M526 871L615 848L710 838" stroke="#f00" stroke-width="4.3" stroke-miterlimit="5"/>
<path d="M610 849L568 880L602 894L540 925L625 938L571 956L670 935" stroke="#f00" stroke-width="4.3" stroke-miterlimit="5"/>
<path d="M602 894L632 925L670 905" stroke="#f00" stroke-width="4.3" stroke-miterlimit="5"/>
<path d="M568 880L658 910" stroke="#f00" stroke-width="4.3" stroke-miterlimit="5"/>
<path d="M695 960L632 984L682 940" stroke="#f00" stroke-width="4.3" stroke-miterlimit="5"/>
<path d="M861 534L875 555L902 585L961 601L970 635L982 698" stroke="#f00" stroke-width="4.3" stroke-miterlimit="5"/>
<path d="M875 555L898 632L912 640L950 625L962 660L900 695" stroke="#f00" stroke-width="4.3" stroke-miterlimit="5"/>
<path d="M900 640L912 640" stroke="#f00" stroke-width="4.3" stroke-miterlimit="5"/>
<path d="M1009 598L982 635L1030 632L1009 598" stroke="#f00" stroke-width="4.3" stroke-miterlimit="5"/>
<path d="M1035 610L1060 618" stroke="#f00" stroke-width="4.3" stroke-miterlimit="5"/>
<path d="M970 635L1030 645L1060 660" stroke="#f00" stroke-width="4.3" stroke-miterlimit="5"/>
<path d="M900 584L932 592L962 601L975 660L950 630L1030 650L1062 660" stroke="#f00" stroke-width="4.3" stroke-miterlimit="5"/>
<path d="M985 630L1009 598L1030 634L985 631L900 642" stroke="#f00" stroke-width="4.3" stroke-miterlimit="5"/>
<path d="M1035 609L1090 628L1115 665L1105 675L1075 660L1085 630L1055 618L1035 609" stroke="#f00" stroke-width="4.3" stroke-miterlimit="5"/>
<path d="M1045 658L1055 635L1075 665L1112 670" stroke="#f00" stroke-width="4.3" stroke-miterlimit="5"/>
<path d="M900 665L962 635L900 700L970 658" stroke="#f00" stroke-width="4.3" stroke-miterlimit="5"/>
<path d="M1082 720L1098 760L1090 730L1118 695L1080 690" stroke="#f00" stroke-width="4.3" stroke-miterlimit="5"/>
<path d="M1208 769L1290 715L1240 746L1275 758L1310 680L1295 648" stroke="#f00" stroke-width="4.3" stroke-miterlimit="5"/>
<path d="M1288 560L1290 628L1310 626L1320 575L1300 610" stroke="#f00" stroke-width="4.3" stroke-miterlimit="5"/>
<path d="M1172 781L1250 792L1180 800L1175 810L1125 780L1095 785" stroke="#f00" stroke-width="4.3" stroke-miterlimit="5"/>
<path d="M1250 875L1270 888L1305 870L1312 855L1310 810L1270 850L1250 875" stroke="#f00" stroke-width="4.3" stroke-miterlimit="5"/>
<path d="M1325 838L1275 830L1225 855L1212 868L1150 848L1125 872L1105 852" stroke="#f00" stroke-width="4.3" stroke-miterlimit="5"/>
<path d="M1100 772L1125 780L1110 790L1175 812" stroke="#f00" stroke-width="4.3" stroke-miterlimit="5"/>
<path d="M1060 910L1132 902L1100 918L1165 926L1075 942" stroke="#f00" stroke-width="4.3" stroke-miterlimit="5"/>
<path d="M1075 910L1132 882L1090 890" stroke="#f00" stroke-width="4.3" stroke-miterlimit="5"/>
<path d="M1108 860L1112 880L1135 872L1140 860" stroke="#f00" stroke-width="4.3" stroke-miterlimit="5"/>
<path d="M1010 965L1050 970L1042 990L982 990" stroke="#f00" stroke-width="4.3" stroke-miterlimit="5"/>
<path d="M900 1000L930 1022L938 1000" stroke="#f00" stroke-width="4.3" stroke-miterlimit="5"/>
<path d="M631 985L690 960L715 995L760 970L742 998L810 975" stroke="#f00" stroke-width="4.3" stroke-miterlimit="5"/>
<path d="M830 992L935 1010L910 985L930 1020L885 998" stroke="#f00" stroke-width="4.3" stroke-miterlimit="5"/>
<path d="M1251 509L1282 550L1292 628L1300 625L1310 550L1342 545L1330 520L1338 465L1335 498L1392 510L1430 500L1435 460L1465 490L1458 520L1480 528" stroke="#f00" stroke-width="4.3" stroke-miterlimit="5"/>
<path d="M1465 490L1430 520L1345 522" stroke="#f00" stroke-width="4.3" stroke-miterlimit="5"/>
<path d="M1292 648L1330 640L1310 658L1340 660" stroke="#f00" stroke-width="4.3" stroke-miterlimit="5"/>
<path d="M1245 702L1268 695L1262 713" stroke="#f00" stroke-width="4.3" stroke-miterlimit="5"/>
<path d="M1308 672L1298 713" stroke="#f00" stroke-width="4.3" stroke-miterlimit="5"/>
<path d="M1480 582L1518 548L1498 575L1505 595" stroke="#f00" stroke-width="4.3" stroke-miterlimit="5"/>
<path d="M1492 645L1525 631L1505 670" stroke="#f00" stroke-width="4.3" stroke-miterlimit="5"/>
<path d="M1483 582L1518 548L1490 578" stroke="#f00" stroke-width="4.3" stroke-miterlimit="5"/>
<path d="M1496 645L1526 631L1500 658" stroke="#f00" stroke-width="4.3" stroke-miterlimit="5"/>
<path d="M1523 715L1538 726L1528 735" stroke="#f00" stroke-width="4.3" stroke-miterlimit="5"/>
<path d="M1433 883L1470 828L1508 835L1438 865L1523 812" stroke="#f00" stroke-width="4.3" stroke-miterlimit="5"/>
<path d="M1420 896L1513 838L1428 882L1483 858L1440 872L1496 842" stroke="#f00" stroke-width="4.3" stroke-miterlimit="5"/>
<path d="M1172 781L1252 800L1180 805L1315 780L1240 815L1328 790" stroke="#f00" stroke-width="4.3" stroke-miterlimit="5"/>
<path d="M1206 770L1230 728L1290 712L1248 700L1258 692L1268 715L1240 748L1265 758L1290 728L1310 672L1318 690L1290 722" stroke="#f00" stroke-width="4.3" stroke-miterlimit="5"/>
<path d="M1250 875L1270 890L1302 868L1305 838L1285 830L1260 860L1250 875" stroke="#f00" stroke-width="4.3" stroke-miterlimit="5"/>
<path d="M1319 800L1315 825L1290 832L1328 838L1265 840" stroke="#f00" stroke-width="4.3" stroke-miterlimit="5"/>
<path d="M1128 815L1180 812L1115 790L1172 825L1125 840" stroke="#f00" stroke-width="4.3" stroke-miterlimit="5"/>
<path d="M1078 910L1135 882L1090 890" stroke="#f00" stroke-width="4.3" stroke-miterlimit="5"/>
<path d="M1068 928L1165 925L1100 915" stroke="#f00" stroke-width="4.3" stroke-miterlimit="5"/>
<path d="M1055 983L1065 940L1080 965" stroke="#f00" stroke-width="4.3" stroke-miterlimit="5"/>
<path d="M1115 865L1135 858L1125 888L1145 855" stroke="#f00" stroke-width="4.3" stroke-miterlimit="5"/>
<path d="M1420 895L1500 845L1440 865L1500 815" stroke="#f00" stroke-width="4.3" stroke-miterlimit="5"/>
<path d="M306 396L361 410L405 402L492 415L449 365L432 376L452 362" stroke="#f00" stroke-width="4.3" stroke-miterlimit="5"/>
<path d="M361 396L392 400L434 404L492 415" stroke="#f00" stroke-width="4.3" stroke-miterlimit="5"/>
<path d="M312 400L316 428L318 452L306 471L321 480L321 490L342 488L375 495" stroke="#f00" stroke-width="4.3" stroke-miterlimit="5"/>
<path d="M306 396L332 418L361 440L370 446" stroke="#f00" stroke-width="4.3" stroke-miterlimit="5"/>
<path d="M321 355L345 381L358 370L342 400L328 430L335 448L345 471L341 490L334 511" stroke="#f00" stroke-width="4.3" stroke-miterlimit="5"/>
<path d="M358 370L375 376L380 396L372 428L399 419L376 410" stroke="#f00" stroke-width="4.3" stroke-miterlimit="5"/>
<path d="M396 376L452 396L438 384" stroke="#f00" stroke-width="4.3" stroke-miterlimit="5"/>
<path d="M440 390L424 428L411 446L398 459L392 478L382 496" stroke="#f00" stroke-width="4.3" stroke-miterlimit="5"/>
<path d="M351 459L371 445L379 468L386 478" stroke="#f00" stroke-width="4.3" stroke-miterlimit="5"/>
<path d="M386 432L405 448L411 439L405 465" stroke="#f00" stroke-width="4.3" stroke-miterlimit="5"/>
<path d="M381 428L431 426L436 446L446 465L460 464L461 484L474 479L470 511" stroke="#f00" stroke-width="4.3" stroke-miterlimit="5"/>
<path d="M418 440L432 442L418 459L442 465" stroke="#f00" stroke-width="4.3" stroke-miterlimit="5"/>
<path d="M510 475L475 492L510 501" stroke="#f00" stroke-width="4.3" stroke-miterlimit="5"/>
<path d="M285 373L318 352L326 376L299 388L321 365" stroke="#f00" stroke-width="4.3" stroke-miterlimit="5"/>
<path d="M298 340L302 371" stroke="#f00" stroke-width="4.3" stroke-miterlimit="5"/>
<path d="M455 345L478 342L485 359" stroke="#f00" stroke-width="4.3" stroke-miterlimit="5"/>
<path d="M392 350L436 356L405 365L468 346" stroke="#f00" stroke-width="4.3" stroke-miterlimit="5"/>
</g>
<g id="axes">
<rect x="129.5" y="50.0" width="1688.2" height="1182.5" fill="none" stroke="#000" stroke-width="3"/>
<path d="M270.2 1232.5v-34M270.2 50.0v34M410.9 1232.5v-17M410.9 50.0v17M551.5 1232.5v-34M551.5 50.0v34M692.2 1232.5v-17M692.2 50.0v17M832.9 1232.5v-34M832.9 50.0v34M973.6 1232.5v-17M973.6 50.0v17M1114.3 1232.5v-34M1114.3 50.0v34M1255.0 1232.5v-17M1255.0 50.0v17M1395.7 1232.5v-34M1395.7 50.0v34M1536.3 1232.5v-17M1536.3 50.0v17M1677.0 1232.5v-34M1677.0 50.0v34M129.5 1114.2h17M1817.7 1114.2h-17M129.5 996.0h34M1817.7 996.0h-34M129.5 877.8h17M1817.7 877.8h-17M129.5 759.5h34M1817.7 759.5h-34M129.5 641.2h17M1817.7 641.2h-17M129.5 523.0h34M1817.7 523.0h-34M129.5 404.8h17M1817.7 404.8h-17M129.5 286.5h34M1817.7 286.5h-34M129.5 168.2h17M1817.7 168.2h-17" stroke="#000" stroke-width="3" fill="none"/>
<text x="271.2" y="1281" text-anchor="middle" font-size="47">-6</text>
<text x="552.5" y="1281" text-anchor="middle" font-size="47">-4</text>
<text x="833.9" y="1281" text-anchor="middle" font-size="47">-2</text>
<text x="1115.3" y="1281" text-anchor="middle" font-size="47">0</text>
<text x="1396.7" y="1281" text-anchor="middle" font-size="47">2</text>
<text x="1678.0" y="1281" text-anchor="middle" font-size="47">4</text>
<text x="114.5" y="1247.9" text-anchor="end" font-size="47">-4</text>
<text x="114.5" y="1011.4" text-anchor="end" font-size="47">-2</text>
<text x="114.5" y="774.9" text-anchor="end" font-size="47">0</text>
<text x="114.5" y="538.4" text-anchor="end" font-size="47">2</text>
<text x="114.5" y="301.9" text-anchor="end" font-size="47">4</text>
<text x="114.5" y="65.4" text-anchor="end" font-size="47">6</text>
<text x="975" y="1332" text-anchor="middle" font-size="47.45">projection on eigenvector 1 (nm)</text>
<text transform="translate(48 641.3) rotate(-90)" text-anchor="middle" font-size="47.45">projection on eigenvector 2 (nm)</text>
</g>
<g id="legend">
<rect x="1311.5" y="134.7" width="309" height="115.5" fill="#fff" stroke="#000" stroke-width="3"/>
<path d="M1329 167.5h69" stroke="#000" stroke-width="5" fill="none"/>
<path d="M1329 216.5h69" stroke="#f00" stroke-width="5" fill="none"/>
<text x="1431" y="183.3" font-size="47">MBP-1</text>
<text x="1434" y="232.8" font-size="47">Variant 1</text>
</g>
</svg>
</body></html>
